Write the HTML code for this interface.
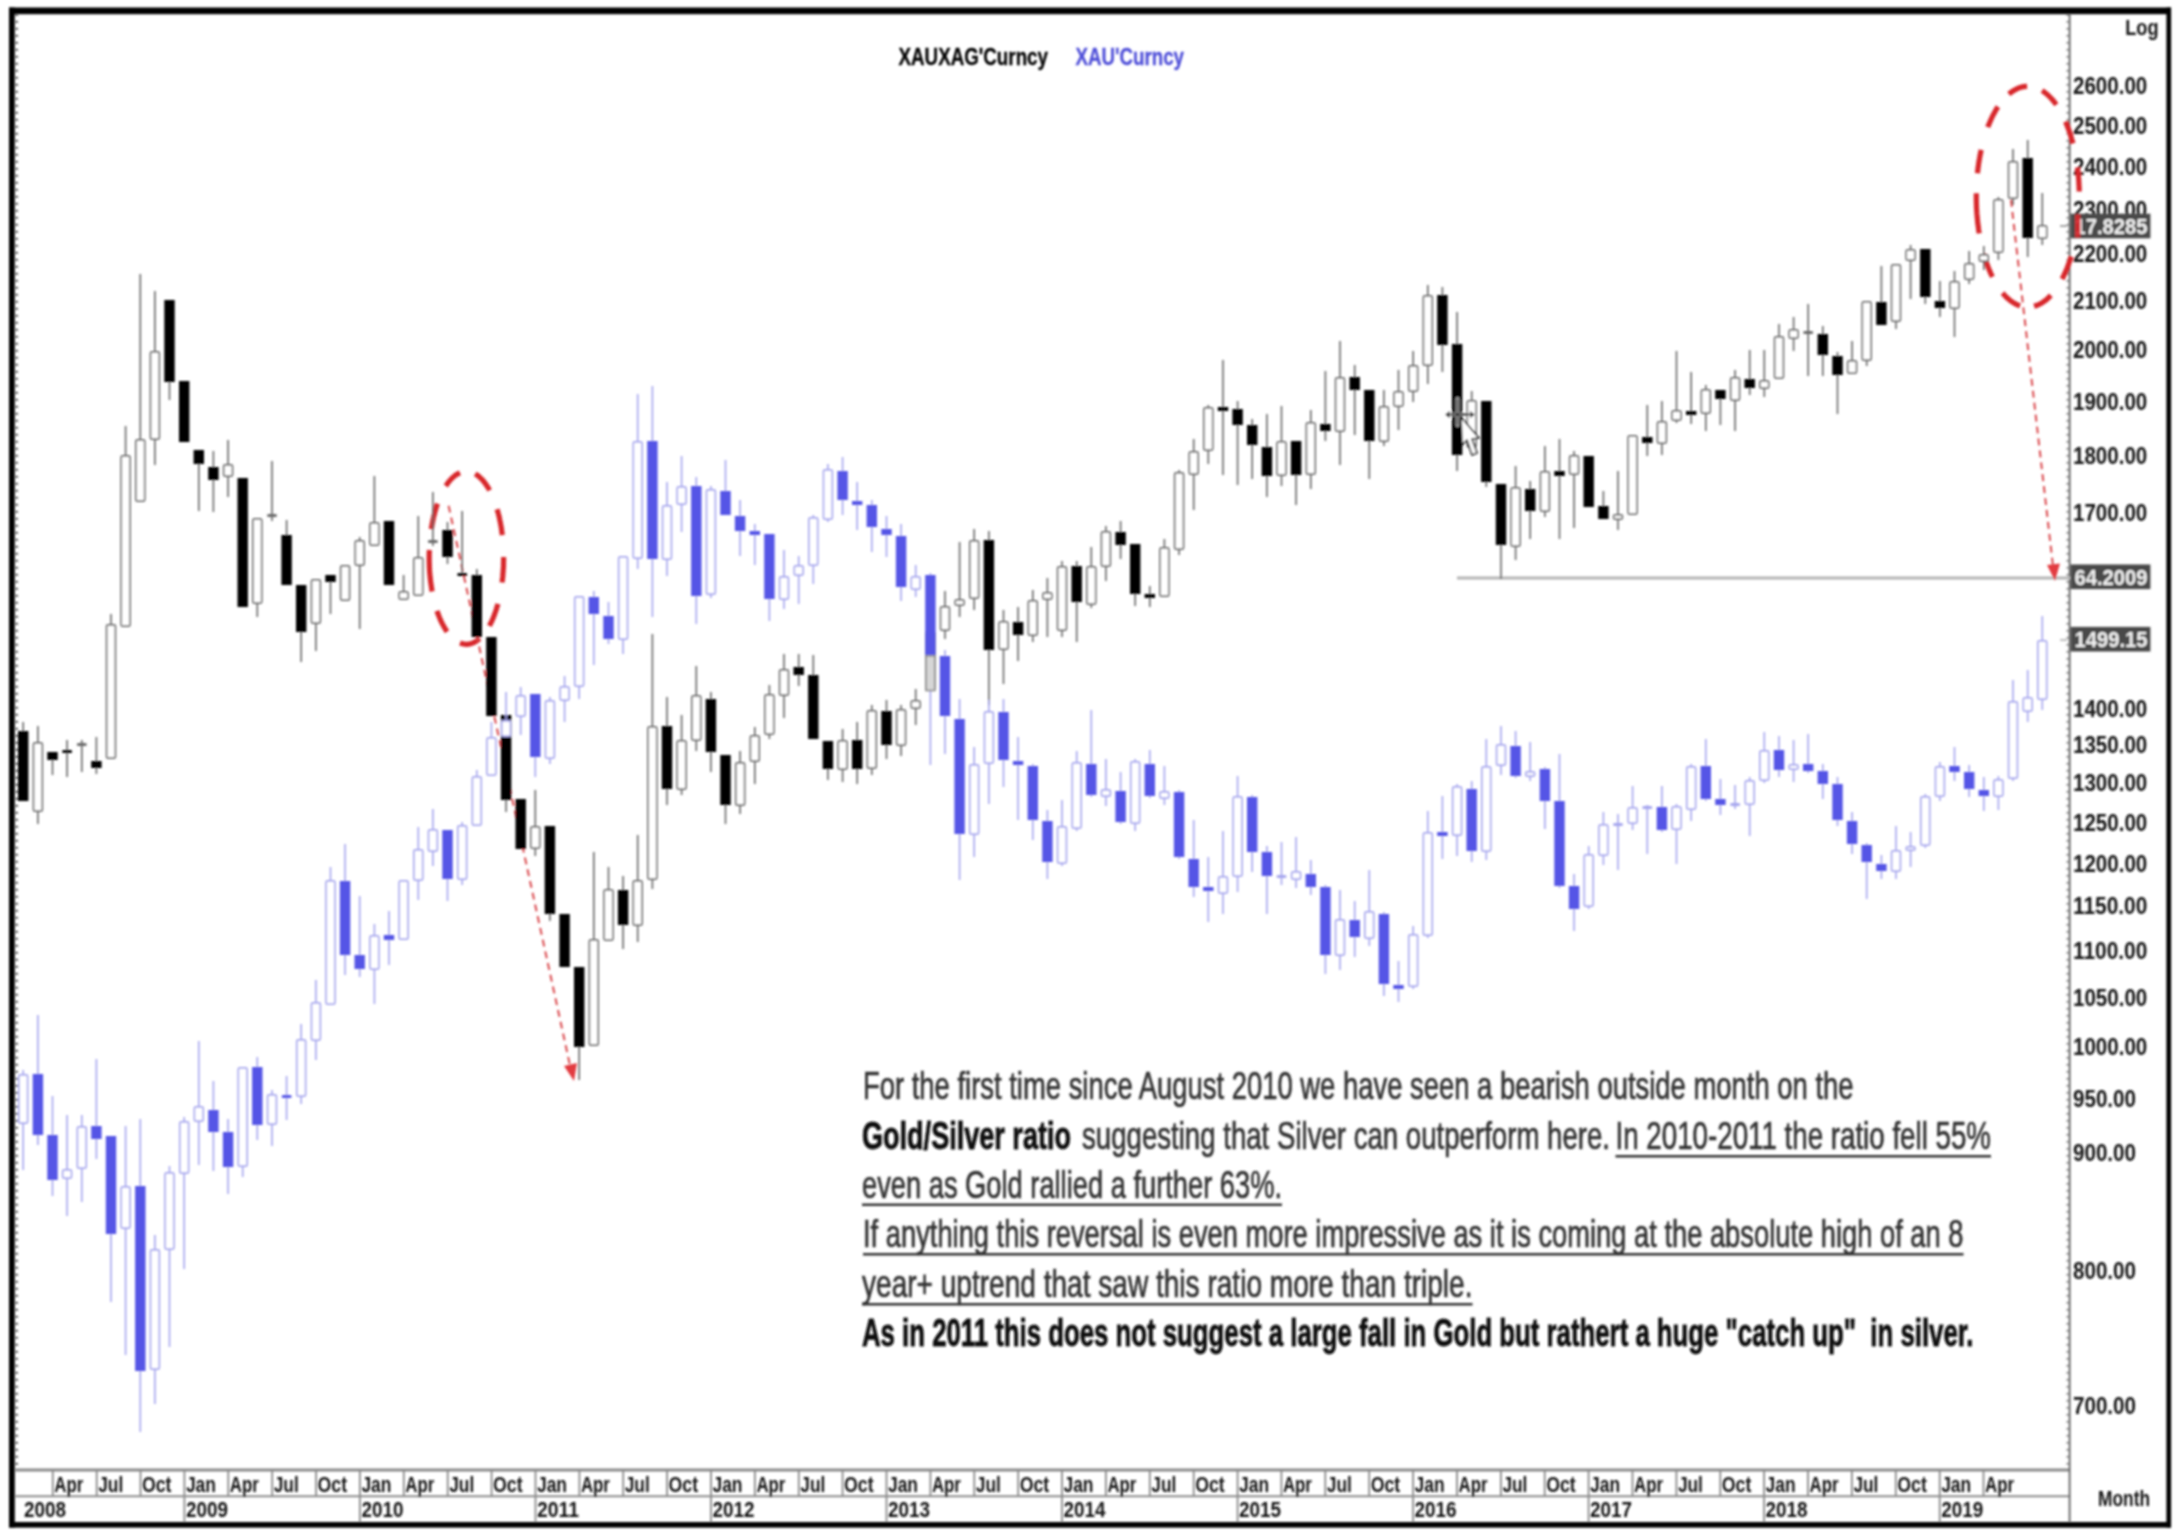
<!DOCTYPE html><html><head><meta charset="utf-8"><title>chart</title><style>
html,body{margin:0;padding:0;background:#fff;}body{width:2180px;height:1540px;overflow:hidden;font-family:"Liberation Sans",sans-serif;}
svg{display:block;font-family:"Liberation Sans",sans-serif;}
.ax{font-size:24px;fill:#141414;font-weight:bold;}
.xl{font-size:22px;fill:#141414;font-weight:bold;}
.t{font-size:38.5px;fill:#333;stroke:#333;stroke-width:0.7px;}
.tb{font-size:38.5px;fill:#111;font-weight:bold;stroke:#111;stroke-width:0.8px;}
</style></head><body>
<svg width="2180" height="1540" viewBox="0 0 2180 1540">
<defs><filter id="bl" x="-2%" y="-2%" width="104%" height="104%"><feGaussianBlur stdDeviation="0.9"/></filter></defs>
<rect width="2180" height="1540" fill="#fff"/>
<g filter="url(#bl)">
<g stroke="#8a8a8a" stroke-width="2.6" fill="none">
<line x1="15" y1="1470" x2="2070" y2="1470" stroke-width="3"/>
<line x1="15" y1="1496.3" x2="2070" y2="1496.3" stroke-width="2"/>
</g>
<g stroke="#8a8a8a" stroke-width="1.8">
<line x1="52.8" y1="1469" x2="52.8" y2="1496"/>
<line x1="96.7" y1="1469" x2="96.7" y2="1496"/>
<line x1="140.5" y1="1469" x2="140.5" y2="1496"/>
<line x1="184.4" y1="1469" x2="184.4" y2="1522"/>
<line x1="228.3" y1="1469" x2="228.3" y2="1496"/>
<line x1="272.2" y1="1469" x2="272.2" y2="1496"/>
<line x1="316.1" y1="1469" x2="316.1" y2="1496"/>
<line x1="359.9" y1="1469" x2="359.9" y2="1522"/>
<line x1="403.8" y1="1469" x2="403.8" y2="1496"/>
<line x1="447.7" y1="1469" x2="447.7" y2="1496"/>
<line x1="491.6" y1="1469" x2="491.6" y2="1496"/>
<line x1="535.5" y1="1469" x2="535.5" y2="1522"/>
<line x1="579.4" y1="1469" x2="579.4" y2="1496"/>
<line x1="623.2" y1="1469" x2="623.2" y2="1496"/>
<line x1="667.1" y1="1469" x2="667.1" y2="1496"/>
<line x1="711.0" y1="1469" x2="711.0" y2="1522"/>
<line x1="754.9" y1="1469" x2="754.9" y2="1496"/>
<line x1="798.8" y1="1469" x2="798.8" y2="1496"/>
<line x1="842.6" y1="1469" x2="842.6" y2="1496"/>
<line x1="886.5" y1="1469" x2="886.5" y2="1522"/>
<line x1="930.4" y1="1469" x2="930.4" y2="1496"/>
<line x1="974.3" y1="1469" x2="974.3" y2="1496"/>
<line x1="1018.2" y1="1469" x2="1018.2" y2="1496"/>
<line x1="1062.0" y1="1469" x2="1062.0" y2="1522"/>
<line x1="1105.9" y1="1469" x2="1105.9" y2="1496"/>
<line x1="1149.8" y1="1469" x2="1149.8" y2="1496"/>
<line x1="1193.7" y1="1469" x2="1193.7" y2="1496"/>
<line x1="1237.6" y1="1469" x2="1237.6" y2="1522"/>
<line x1="1281.4" y1="1469" x2="1281.4" y2="1496"/>
<line x1="1325.3" y1="1469" x2="1325.3" y2="1496"/>
<line x1="1369.2" y1="1469" x2="1369.2" y2="1496"/>
<line x1="1413.1" y1="1469" x2="1413.1" y2="1522"/>
<line x1="1457.0" y1="1469" x2="1457.0" y2="1496"/>
<line x1="1500.9" y1="1469" x2="1500.9" y2="1496"/>
<line x1="1544.7" y1="1469" x2="1544.7" y2="1496"/>
<line x1="1588.6" y1="1469" x2="1588.6" y2="1522"/>
<line x1="1632.5" y1="1469" x2="1632.5" y2="1496"/>
<line x1="1676.4" y1="1469" x2="1676.4" y2="1496"/>
<line x1="1720.3" y1="1469" x2="1720.3" y2="1496"/>
<line x1="1764.1" y1="1469" x2="1764.1" y2="1522"/>
<line x1="1808.0" y1="1469" x2="1808.0" y2="1496"/>
<line x1="1851.9" y1="1469" x2="1851.9" y2="1496"/>
<line x1="1895.8" y1="1469" x2="1895.8" y2="1496"/>
<line x1="1939.7" y1="1469" x2="1939.7" y2="1522"/>
<line x1="1983.5" y1="1469" x2="1983.5" y2="1496"/>
</g>
<g class="xl">
<text x="54.3" y="1492.3" textLength="29" lengthAdjust="spacingAndGlyphs">Apr</text>
<text x="98.2" y="1492.3" textLength="25" lengthAdjust="spacingAndGlyphs">Jul</text>
<text x="142.0" y="1492.3" textLength="29.5" lengthAdjust="spacingAndGlyphs">Oct</text>
<text x="185.9" y="1492.3" textLength="30" lengthAdjust="spacingAndGlyphs">Jan</text>
<text x="229.8" y="1492.3" textLength="29" lengthAdjust="spacingAndGlyphs">Apr</text>
<text x="273.7" y="1492.3" textLength="25" lengthAdjust="spacingAndGlyphs">Jul</text>
<text x="317.6" y="1492.3" textLength="29.5" lengthAdjust="spacingAndGlyphs">Oct</text>
<text x="361.4" y="1492.3" textLength="30" lengthAdjust="spacingAndGlyphs">Jan</text>
<text x="405.3" y="1492.3" textLength="29" lengthAdjust="spacingAndGlyphs">Apr</text>
<text x="449.2" y="1492.3" textLength="25" lengthAdjust="spacingAndGlyphs">Jul</text>
<text x="493.1" y="1492.3" textLength="29.5" lengthAdjust="spacingAndGlyphs">Oct</text>
<text x="537.0" y="1492.3" textLength="30" lengthAdjust="spacingAndGlyphs">Jan</text>
<text x="580.9" y="1492.3" textLength="29" lengthAdjust="spacingAndGlyphs">Apr</text>
<text x="624.7" y="1492.3" textLength="25" lengthAdjust="spacingAndGlyphs">Jul</text>
<text x="668.6" y="1492.3" textLength="29.5" lengthAdjust="spacingAndGlyphs">Oct</text>
<text x="712.5" y="1492.3" textLength="30" lengthAdjust="spacingAndGlyphs">Jan</text>
<text x="756.4" y="1492.3" textLength="29" lengthAdjust="spacingAndGlyphs">Apr</text>
<text x="800.3" y="1492.3" textLength="25" lengthAdjust="spacingAndGlyphs">Jul</text>
<text x="844.1" y="1492.3" textLength="29.5" lengthAdjust="spacingAndGlyphs">Oct</text>
<text x="888.0" y="1492.3" textLength="30" lengthAdjust="spacingAndGlyphs">Jan</text>
<text x="931.9" y="1492.3" textLength="29" lengthAdjust="spacingAndGlyphs">Apr</text>
<text x="975.8" y="1492.3" textLength="25" lengthAdjust="spacingAndGlyphs">Jul</text>
<text x="1019.7" y="1492.3" textLength="29.5" lengthAdjust="spacingAndGlyphs">Oct</text>
<text x="1063.5" y="1492.3" textLength="30" lengthAdjust="spacingAndGlyphs">Jan</text>
<text x="1107.4" y="1492.3" textLength="29" lengthAdjust="spacingAndGlyphs">Apr</text>
<text x="1151.3" y="1492.3" textLength="25" lengthAdjust="spacingAndGlyphs">Jul</text>
<text x="1195.2" y="1492.3" textLength="29.5" lengthAdjust="spacingAndGlyphs">Oct</text>
<text x="1239.1" y="1492.3" textLength="30" lengthAdjust="spacingAndGlyphs">Jan</text>
<text x="1282.9" y="1492.3" textLength="29" lengthAdjust="spacingAndGlyphs">Apr</text>
<text x="1326.8" y="1492.3" textLength="25" lengthAdjust="spacingAndGlyphs">Jul</text>
<text x="1370.7" y="1492.3" textLength="29.5" lengthAdjust="spacingAndGlyphs">Oct</text>
<text x="1414.6" y="1492.3" textLength="30" lengthAdjust="spacingAndGlyphs">Jan</text>
<text x="1458.5" y="1492.3" textLength="29" lengthAdjust="spacingAndGlyphs">Apr</text>
<text x="1502.4" y="1492.3" textLength="25" lengthAdjust="spacingAndGlyphs">Jul</text>
<text x="1546.2" y="1492.3" textLength="29.5" lengthAdjust="spacingAndGlyphs">Oct</text>
<text x="1590.1" y="1492.3" textLength="30" lengthAdjust="spacingAndGlyphs">Jan</text>
<text x="1634.0" y="1492.3" textLength="29" lengthAdjust="spacingAndGlyphs">Apr</text>
<text x="1677.9" y="1492.3" textLength="25" lengthAdjust="spacingAndGlyphs">Jul</text>
<text x="1721.8" y="1492.3" textLength="29.5" lengthAdjust="spacingAndGlyphs">Oct</text>
<text x="1765.6" y="1492.3" textLength="30" lengthAdjust="spacingAndGlyphs">Jan</text>
<text x="1809.5" y="1492.3" textLength="29" lengthAdjust="spacingAndGlyphs">Apr</text>
<text x="1853.4" y="1492.3" textLength="25" lengthAdjust="spacingAndGlyphs">Jul</text>
<text x="1897.3" y="1492.3" textLength="29.5" lengthAdjust="spacingAndGlyphs">Oct</text>
<text x="1941.2" y="1492.3" textLength="30" lengthAdjust="spacingAndGlyphs">Jan</text>
<text x="1985.0" y="1492.3" textLength="29" lengthAdjust="spacingAndGlyphs">Apr</text>
<text x="24.0" y="1517.3" font-size="21.5" textLength="42" lengthAdjust="spacingAndGlyphs">2008</text>
<text x="185.9" y="1517.3" font-size="21.5" textLength="42" lengthAdjust="spacingAndGlyphs">2009</text>
<text x="361.4" y="1517.3" font-size="21.5" textLength="42" lengthAdjust="spacingAndGlyphs">2010</text>
<text x="537.0" y="1517.3" font-size="21.5" textLength="42" lengthAdjust="spacingAndGlyphs">2011</text>
<text x="712.5" y="1517.3" font-size="21.5" textLength="42" lengthAdjust="spacingAndGlyphs">2012</text>
<text x="888.0" y="1517.3" font-size="21.5" textLength="42" lengthAdjust="spacingAndGlyphs">2013</text>
<text x="1063.5" y="1517.3" font-size="21.5" textLength="42" lengthAdjust="spacingAndGlyphs">2014</text>
<text x="1239.1" y="1517.3" font-size="21.5" textLength="42" lengthAdjust="spacingAndGlyphs">2015</text>
<text x="1414.6" y="1517.3" font-size="21.5" textLength="42" lengthAdjust="spacingAndGlyphs">2016</text>
<text x="1590.1" y="1517.3" font-size="21.5" textLength="42" lengthAdjust="spacingAndGlyphs">2017</text>
<text x="1765.6" y="1517.3" font-size="21.5" textLength="42" lengthAdjust="spacingAndGlyphs">2018</text>
<text x="1941.2" y="1517.3" font-size="21.5" textLength="42" lengthAdjust="spacingAndGlyphs">2019</text>
<text x="2098" y="1506" font-size="21.5" textLength="52" lengthAdjust="spacingAndGlyphs">Month</text>
<text x="2125.2" y="35.2" font-size="22" textLength="33.3" lengthAdjust="spacingAndGlyphs">Log</text>
</g>
<line x1="2069.6" y1="14" x2="2069.6" y2="1522" stroke="#555" stroke-width="1.7"/>
<line x1="2067.6" y1="14" x2="2067.6" y2="1469" stroke="#777" stroke-width="2.4" stroke-dasharray="1.4 5.6"/>
<line x1="16.5" y1="14" x2="16.5" y2="1469" stroke="#333" stroke-width="3" stroke-dasharray="1.5 5.5"/>
<g class="ax">
<text x="2073" y="94.2" textLength="74.3" lengthAdjust="spacingAndGlyphs">2600.00</text>
<text x="2073" y="133.6" textLength="74.3" lengthAdjust="spacingAndGlyphs">2500.00</text>
<text x="2073" y="174.7" textLength="74.3" lengthAdjust="spacingAndGlyphs">2400.00</text>
<text x="2073" y="217.5" textLength="74.3" lengthAdjust="spacingAndGlyphs">2300.00</text>
<text x="2073" y="262.2" textLength="74.3" lengthAdjust="spacingAndGlyphs">2200.00</text>
<text x="2073" y="308.9" textLength="74.3" lengthAdjust="spacingAndGlyphs">2100.00</text>
<text x="2073" y="358.0" textLength="74.3" lengthAdjust="spacingAndGlyphs">2000.00</text>
<text x="2073" y="409.6" textLength="74.3" lengthAdjust="spacingAndGlyphs">1900.00</text>
<text x="2073" y="463.9" textLength="74.3" lengthAdjust="spacingAndGlyphs">1800.00</text>
<text x="2073" y="521.4" textLength="74.3" lengthAdjust="spacingAndGlyphs">1700.00</text>
<text x="2073" y="716.6" textLength="74.3" lengthAdjust="spacingAndGlyphs">1400.00</text>
<text x="2073" y="753.2" textLength="74.3" lengthAdjust="spacingAndGlyphs">1350.00</text>
<text x="2073" y="791.2" textLength="74.3" lengthAdjust="spacingAndGlyphs">1300.00</text>
<text x="2073" y="830.6" textLength="74.3" lengthAdjust="spacingAndGlyphs">1250.00</text>
<text x="2073" y="871.6" textLength="74.3" lengthAdjust="spacingAndGlyphs">1200.00</text>
<text x="2073" y="914.4" textLength="74.3" lengthAdjust="spacingAndGlyphs">1150.00</text>
<text x="2073" y="959.1" textLength="74.3" lengthAdjust="spacingAndGlyphs">1100.00</text>
<text x="2073" y="1005.9" textLength="74.3" lengthAdjust="spacingAndGlyphs">1050.00</text>
<text x="2073" y="1055.0" textLength="74.3" lengthAdjust="spacingAndGlyphs">1000.00</text>
<text x="2073" y="1106.5" textLength="63" lengthAdjust="spacingAndGlyphs">950.00</text>
<text x="2073" y="1160.9" textLength="63" lengthAdjust="spacingAndGlyphs">900.00</text>
<text x="2073" y="1279.3" textLength="63" lengthAdjust="spacingAndGlyphs">800.00</text>
<text x="2073" y="1413.6" textLength="63" lengthAdjust="spacingAndGlyphs">700.00</text>
</g>
<line x1="1457" y1="578" x2="2070" y2="578" stroke="#b4b4b4" stroke-width="3"/>
<g fill="none" stroke="#d8262c" stroke-width="5.2" stroke-linecap="butt"><path d="M445.8 486.0 L446.9 484.4 L448.0 482.8 L449.1 481.4 L450.2 480.1 L451.4 478.8 L452.6 477.7 L453.8 476.6 L455.0 475.6 L456.2 474.8 L457.5 474.0 L458.7 473.4 L460.0 472.8 M475.2 473.9 L476.5 474.7 L477.8 475.6 L479.1 476.7 L480.3 477.8 L481.6 479.0 L482.8 480.3 L484.0 481.8 L485.2 483.3 L486.3 485.0 L487.5 486.7 L488.6 488.5 L489.6 490.4 M497.1 509.2 L497.7 511.2 L498.2 513.2 L498.8 515.3 L499.3 517.4 L499.7 519.5 L500.2 521.7 L500.6 523.9 L501.0 526.1 L501.4 528.3 L501.7 530.6 L502.0 532.9 L502.3 535.2 M503.6 557.1 L503.6 559.3 L503.6 561.4 L503.5 563.5 L503.5 565.6 L503.4 567.8 L503.2 569.9 L503.1 572.0 L502.9 574.1 L502.8 576.2 L502.6 578.2 L502.3 580.3 L502.1 582.4 M497.9 603.9 L497.3 606.0 L496.7 608.0 L496.1 610.0 L495.4 612.0 L494.7 613.9 L494.0 615.8 L493.3 617.6 L492.6 619.3 L491.8 621.1 L491.0 622.7 L490.2 624.3 L489.4 625.9 M479.7 638.6 L478.1 639.9 L476.5 641.1 L474.9 642.0 L473.3 642.8 L471.6 643.4 L470.0 643.9 L468.3 644.2 L466.7 644.3 L465.0 644.2 L463.3 644.0 L461.7 643.6 L460.0 643.0 M447.1 631.7 L446.1 630.3 L445.2 628.9 L444.3 627.3 L443.4 625.7 L442.5 624.1 L441.6 622.4 L440.8 620.6 L440.0 618.8 L439.2 616.9 L438.5 615.0 L437.7 613.0 L437.0 610.9 M432.1 591.5 L431.6 588.2 L431.1 584.8 L430.6 581.5 L430.2 578.1 L429.9 574.6 L429.6 571.1 L429.4 567.6 L429.3 564.1 L429.2 560.6 L429.2 557.1 L429.2 553.5 L429.4 550.0 M431.3 529.1 L431.7 526.8 L432.1 524.5 L432.5 522.3 L433.0 520.1 L433.4 517.9 L433.9 515.7 L434.5 513.6 L435.0 511.5 L435.6 509.5 L436.2 507.5 L436.8 505.5 L437.5 503.6"/><path d="M2008.8 94.0 L2010.3 92.9 L2011.8 91.8 L2013.3 90.8 L2014.8 89.9 L2016.3 89.1 L2017.8 88.4 L2019.4 87.8 L2020.9 87.3 L2022.4 86.9 L2024.0 86.6 L2025.6 86.4 L2027.1 86.3 M2042.0 90.6 L2043.3 91.4 L2044.5 92.3 L2045.8 93.2 L2047.0 94.3 L2048.2 95.3 L2049.4 96.5 L2050.6 97.7 L2051.8 99.0 L2052.9 100.3 L2054.1 101.7 L2055.2 103.2 L2056.3 104.7 M2065.5 121.6 L2066.3 123.3 L2066.9 125.0 L2067.6 126.7 L2068.3 128.5 L2068.9 130.3 L2069.6 132.1 L2070.2 133.9 L2070.8 135.8 L2071.3 137.7 L2071.9 139.6 L2072.4 141.5 L2072.9 143.5 M2077.5 167.4 L2077.7 169.4 L2077.9 171.3 L2078.1 173.3 L2078.3 175.3 L2078.5 177.3 L2078.7 179.3 L2078.8 181.3 L2078.9 183.3 L2079.0 185.3 L2079.1 187.3 L2079.2 189.4 L2079.2 191.4 M2078.7 214.2 L2078.5 216.0 L2078.3 217.8 L2078.2 219.7 L2078.0 221.5 L2077.8 223.3 L2077.6 225.1 L2077.3 226.9 L2077.1 228.7 L2076.8 230.5 L2076.6 232.3 L2076.3 234.0 L2076.0 235.8 M2071.1 256.5 L2070.5 258.6 L2069.8 260.6 L2069.1 262.6 L2068.4 264.6 L2067.7 266.5 L2067.0 268.4 L2066.2 270.3 L2065.4 272.1 L2064.6 273.9 L2063.8 275.6 L2063.0 277.3 L2062.1 279.0 M2050.9 295.4 L2049.6 296.7 L2048.2 298.0 L2046.9 299.2 L2045.5 300.4 L2044.1 301.4 L2042.7 302.4 L2041.3 303.2 L2039.9 304.0 L2038.5 304.7 L2037.0 305.3 L2035.6 305.8 L2034.1 306.3 M2020.1 305.8 L2018.5 305.3 L2017.0 304.7 L2015.5 303.9 L2014.0 303.1 L2012.5 302.1 L2011.1 301.1 L2009.6 300.0 L2008.2 298.8 L2006.7 297.5 L2005.3 296.1 L2004.0 294.6 L2002.6 293.0 M1992.4 276.8 L1991.6 275.1 L1990.7 273.4 L1990.0 271.6 L1989.2 269.8 L1988.4 267.9 L1987.7 266.0 L1987.0 264.1 L1986.3 262.1 L1985.6 260.1 L1985.0 258.1 L1984.4 256.0 L1983.8 253.9 M1979.2 233.3 L1978.7 230.1 L1978.3 226.8 L1977.8 223.5 L1977.5 220.2 L1977.2 216.9 L1976.9 213.5 L1976.7 210.2 L1976.5 206.8 L1976.4 203.4 L1976.3 200.0 L1976.3 196.6 L1976.3 193.2 M1977.5 173.2 L1977.7 171.2 L1977.9 169.2 L1978.2 167.2 L1978.4 165.3 L1978.7 163.3 L1979.0 161.3 L1979.3 159.4 L1979.7 157.5 L1980.0 155.5 L1980.4 153.6 L1980.8 151.7 L1981.2 149.9 M1987.8 127.2 L1988.5 125.3 L1989.3 123.4 L1990.1 121.5 L1990.9 119.7 L1991.7 117.9 L1992.6 116.2 L1993.4 114.5 L1994.3 112.9 L1995.2 111.2 L1996.1 109.7 L1997.0 108.2 L1998.0 106.7"/></g>
<g fill="none" stroke="#d9474c" stroke-width="2" stroke-dasharray="7 5"><line x1="448.6" y1="505.7" x2="571" y2="1070"/><line x1="2011" y1="200" x2="2053" y2="566"/></g><path d="M564 1066 L577 1063 L574 1081 Z" fill="#e23a40"/><path d="M2047 565 L2060 563.5 L2055 581 Z" fill="#e23a40"/>
<g>
<line x1="23.2" y1="722" x2="23.2" y2="801" stroke="#666" stroke-width="1.6"/><rect x="18.0" y="731" width="10.4" height="70" fill="#000"/>
<line x1="37.9" y1="726" x2="37.9" y2="824" stroke="#666" stroke-width="1.6"/><rect x="33.5" y="742.8" width="8.8" height="68.4" rx="1.5" fill="#fff" stroke="#6c6c6c" stroke-width="1.7"/>
<line x1="52.5" y1="752" x2="52.5" y2="775" stroke="#666" stroke-width="1.6"/><rect x="47.3" y="752" width="10.4" height="8" fill="#000"/>
<line x1="67.1" y1="740" x2="67.1" y2="777" stroke="#666" stroke-width="1.6"/><rect x="62.1" y="750" width="10" height="3" rx="1.5" fill="#000"/>
<line x1="81.8" y1="740" x2="81.8" y2="772" stroke="#666" stroke-width="1.6"/><rect x="76.8" y="743" width="10" height="3" rx="1.5" fill="#6c6c6c"/>
<line x1="96.4" y1="737" x2="96.4" y2="774" stroke="#666" stroke-width="1.6"/><rect x="91.2" y="761" width="10.4" height="7" fill="#000"/>
<line x1="111.0" y1="614" x2="111.0" y2="759" stroke="#666" stroke-width="1.6"/><rect x="106.6" y="624.8" width="8.8" height="133.4" rx="1.5" fill="#fff" stroke="#6c6c6c" stroke-width="1.7"/>
<line x1="125.6" y1="426" x2="125.6" y2="627" stroke="#666" stroke-width="1.6"/><rect x="121.2" y="455.8" width="8.8" height="170.4" rx="1.5" fill="#fff" stroke="#6c6c6c" stroke-width="1.7"/>
<line x1="140.3" y1="274" x2="140.3" y2="502" stroke="#666" stroke-width="1.6"/><rect x="135.9" y="439.8" width="8.8" height="61.4" rx="1.5" fill="#fff" stroke="#6c6c6c" stroke-width="1.7"/>
<line x1="154.9" y1="291" x2="154.9" y2="465" stroke="#666" stroke-width="1.6"/><rect x="150.5" y="351.8" width="8.8" height="87.4" rx="1.5" fill="#fff" stroke="#6c6c6c" stroke-width="1.7"/>
<line x1="169.5" y1="300" x2="169.5" y2="400" stroke="#666" stroke-width="1.6"/><rect x="164.3" y="300" width="10.4" height="82" fill="#000"/>
<line x1="184.2" y1="381" x2="184.2" y2="442" stroke="#666" stroke-width="1.6"/><rect x="179.0" y="381" width="10.4" height="61" fill="#000"/>
<line x1="198.8" y1="450" x2="198.8" y2="511" stroke="#666" stroke-width="1.6"/><rect x="193.6" y="450" width="10.4" height="14" fill="#000"/>
<line x1="213.4" y1="451" x2="213.4" y2="512" stroke="#666" stroke-width="1.6"/><rect x="208.2" y="467" width="10.4" height="13" fill="#000"/>
<line x1="228.1" y1="440" x2="228.1" y2="497" stroke="#666" stroke-width="1.6"/><rect x="223.7" y="464.8" width="8.8" height="11.4" rx="1.5" fill="#fff" stroke="#6c6c6c" stroke-width="1.7"/>
<line x1="242.7" y1="478" x2="242.7" y2="607" stroke="#666" stroke-width="1.6"/><rect x="237.5" y="478" width="10.4" height="129" fill="#000"/>
<line x1="257.3" y1="518" x2="257.3" y2="617" stroke="#666" stroke-width="1.6"/><rect x="252.9" y="518.8" width="8.8" height="84.4" rx="1.5" fill="#fff" stroke="#6c6c6c" stroke-width="1.7"/>
<line x1="272.0" y1="461" x2="272.0" y2="521" stroke="#666" stroke-width="1.6"/><rect x="267.0" y="514" width="10" height="3" rx="1.5" fill="#6c6c6c"/>
<line x1="286.6" y1="520" x2="286.6" y2="585" stroke="#666" stroke-width="1.6"/><rect x="281.4" y="535" width="10.4" height="50" fill="#000"/>
<line x1="301.2" y1="585" x2="301.2" y2="662" stroke="#666" stroke-width="1.6"/><rect x="296.0" y="585" width="10.4" height="47" fill="#000"/>
<line x1="315.9" y1="579" x2="315.9" y2="651" stroke="#666" stroke-width="1.6"/><rect x="311.5" y="579.8" width="8.8" height="43.4" rx="1.5" fill="#fff" stroke="#6c6c6c" stroke-width="1.7"/>
<line x1="330.5" y1="575" x2="330.5" y2="614" stroke="#666" stroke-width="1.6"/><rect x="325.3" y="575" width="10.4" height="7" fill="#000"/>
<line x1="345.1" y1="565" x2="345.1" y2="601" stroke="#666" stroke-width="1.6"/><rect x="340.7" y="565.8" width="8.8" height="34.4" rx="1.5" fill="#fff" stroke="#6c6c6c" stroke-width="1.7"/>
<line x1="359.7" y1="537" x2="359.7" y2="629" stroke="#666" stroke-width="1.6"/><rect x="355.3" y="540.8" width="8.8" height="24.4" rx="1.5" fill="#fff" stroke="#6c6c6c" stroke-width="1.7"/>
<line x1="374.4" y1="476" x2="374.4" y2="546" stroke="#666" stroke-width="1.6"/><rect x="370.0" y="522.8" width="8.8" height="22.4" rx="1.5" fill="#fff" stroke="#6c6c6c" stroke-width="1.7"/>
<line x1="389.0" y1="521" x2="389.0" y2="585" stroke="#666" stroke-width="1.6"/><rect x="383.8" y="521" width="10.4" height="64" fill="#000"/>
<line x1="403.6" y1="575" x2="403.6" y2="600" stroke="#666" stroke-width="1.6"/><rect x="399.2" y="591.8" width="8.8" height="7.4" rx="1.5" fill="#fff" stroke="#6c6c6c" stroke-width="1.7"/>
<line x1="418.3" y1="516" x2="418.3" y2="596" stroke="#666" stroke-width="1.6"/><rect x="413.9" y="557.8" width="8.8" height="37.4" rx="1.5" fill="#fff" stroke="#6c6c6c" stroke-width="1.7"/>
<line x1="432.9" y1="492" x2="432.9" y2="546" stroke="#666" stroke-width="1.6"/><rect x="427.9" y="540" width="10" height="3" rx="1.5" fill="#6c6c6c"/>
<line x1="447.5" y1="522" x2="447.5" y2="564" stroke="#666" stroke-width="1.6"/><rect x="442.3" y="530" width="10.4" height="27" fill="#000"/>
<line x1="462.2" y1="511" x2="462.2" y2="576" stroke="#666" stroke-width="1.6"/><rect x="457.2" y="573" width="10" height="3" rx="1.5" fill="#000"/>
<line x1="476.8" y1="569" x2="476.8" y2="637" stroke="#666" stroke-width="1.6"/><rect x="471.6" y="575" width="10.4" height="62" fill="#000"/>
<line x1="491.4" y1="637" x2="491.4" y2="716" stroke="#666" stroke-width="1.6"/><rect x="486.2" y="637" width="10.4" height="79" fill="#000"/>
<line x1="506.1" y1="715" x2="506.1" y2="812" stroke="#666" stroke-width="1.6"/><rect x="500.9" y="715" width="10.4" height="85" fill="#000"/>
<line x1="520.7" y1="799" x2="520.7" y2="849" stroke="#666" stroke-width="1.6"/><rect x="515.5" y="799" width="10.4" height="50" fill="#000"/>
<line x1="535.3" y1="790" x2="535.3" y2="856" stroke="#666" stroke-width="1.6"/><rect x="530.9" y="826.8" width="8.8" height="21.4" rx="1.5" fill="#fff" stroke="#6c6c6c" stroke-width="1.7"/>
<line x1="549.9" y1="826" x2="549.9" y2="921" stroke="#666" stroke-width="1.6"/><rect x="544.7" y="826" width="10.4" height="88" fill="#000"/>
<line x1="564.6" y1="914" x2="564.6" y2="967" stroke="#666" stroke-width="1.6"/><rect x="559.4" y="914" width="10.4" height="53" fill="#000"/>
<line x1="579.2" y1="967" x2="579.2" y2="1080" stroke="#666" stroke-width="1.6"/><rect x="574.0" y="967" width="10.4" height="80" fill="#000"/>
<line x1="593.8" y1="852" x2="593.8" y2="1046" stroke="#666" stroke-width="1.6"/><rect x="589.4" y="939.8" width="8.8" height="105.4" rx="1.5" fill="#fff" stroke="#6c6c6c" stroke-width="1.7"/>
<line x1="608.5" y1="867" x2="608.5" y2="941" stroke="#666" stroke-width="1.6"/><rect x="604.1" y="889.8" width="8.8" height="50.4" rx="1.5" fill="#fff" stroke="#6c6c6c" stroke-width="1.7"/>
<line x1="623.1" y1="876" x2="623.1" y2="949" stroke="#666" stroke-width="1.6"/><rect x="617.9" y="890" width="10.4" height="35" fill="#000"/>
<line x1="637.7" y1="835" x2="637.7" y2="942" stroke="#666" stroke-width="1.6"/><rect x="633.3" y="880.8" width="8.8" height="44.4" rx="1.5" fill="#fff" stroke="#6c6c6c" stroke-width="1.7"/>
<line x1="652.4" y1="634" x2="652.4" y2="889" stroke="#666" stroke-width="1.6"/><rect x="648.0" y="726.8" width="8.8" height="152.4" rx="1.5" fill="#fff" stroke="#6c6c6c" stroke-width="1.7"/>
<line x1="667.0" y1="697" x2="667.0" y2="805" stroke="#666" stroke-width="1.6"/><rect x="661.8" y="726" width="10.4" height="63" fill="#000"/>
<line x1="681.6" y1="715" x2="681.6" y2="795" stroke="#666" stroke-width="1.6"/><rect x="677.2" y="740.8" width="8.8" height="48.4" rx="1.5" fill="#fff" stroke="#6c6c6c" stroke-width="1.7"/>
<line x1="696.3" y1="666" x2="696.3" y2="751" stroke="#666" stroke-width="1.6"/><rect x="691.9" y="695.8" width="8.8" height="44.4" rx="1.5" fill="#fff" stroke="#6c6c6c" stroke-width="1.7"/>
<line x1="710.9" y1="692" x2="710.9" y2="772" stroke="#666" stroke-width="1.6"/><rect x="705.7" y="699" width="10.4" height="53" fill="#000"/>
<line x1="725.5" y1="755" x2="725.5" y2="824" stroke="#666" stroke-width="1.6"/><rect x="720.3" y="755" width="10.4" height="50" fill="#000"/>
<line x1="740.1" y1="751" x2="740.1" y2="814" stroke="#666" stroke-width="1.6"/><rect x="735.8" y="762.8" width="8.8" height="42.4" rx="1.5" fill="#fff" stroke="#6c6c6c" stroke-width="1.7"/>
<line x1="754.8" y1="727" x2="754.8" y2="784" stroke="#666" stroke-width="1.6"/><rect x="750.4" y="735.8" width="8.8" height="25.4" rx="1.5" fill="#fff" stroke="#6c6c6c" stroke-width="1.7"/>
<line x1="769.4" y1="685" x2="769.4" y2="739" stroke="#666" stroke-width="1.6"/><rect x="765.0" y="694.8" width="8.8" height="39.4" rx="1.5" fill="#fff" stroke="#6c6c6c" stroke-width="1.7"/>
<line x1="784.0" y1="654" x2="784.0" y2="718" stroke="#666" stroke-width="1.6"/><rect x="779.6" y="669.8" width="8.8" height="25.4" rx="1.5" fill="#fff" stroke="#6c6c6c" stroke-width="1.7"/>
<line x1="798.7" y1="654" x2="798.7" y2="686" stroke="#666" stroke-width="1.6"/><rect x="793.5" y="667" width="10.4" height="8" fill="#000"/>
<line x1="813.3" y1="655" x2="813.3" y2="739" stroke="#666" stroke-width="1.6"/><rect x="808.1" y="675" width="10.4" height="64" fill="#000"/>
<line x1="827.9" y1="741" x2="827.9" y2="780" stroke="#666" stroke-width="1.6"/><rect x="822.7" y="741" width="10.4" height="28" fill="#000"/>
<line x1="842.6" y1="729" x2="842.6" y2="782" stroke="#666" stroke-width="1.6"/><rect x="838.2" y="740.8" width="8.8" height="28.4" rx="1.5" fill="#fff" stroke="#6c6c6c" stroke-width="1.7"/>
<line x1="857.2" y1="722" x2="857.2" y2="784" stroke="#666" stroke-width="1.6"/><rect x="852.0" y="740" width="10.4" height="29" fill="#000"/>
<line x1="871.8" y1="705" x2="871.8" y2="775" stroke="#666" stroke-width="1.6"/><rect x="867.4" y="710.8" width="8.8" height="57.4" rx="1.5" fill="#fff" stroke="#6c6c6c" stroke-width="1.7"/>
<line x1="886.5" y1="700" x2="886.5" y2="759" stroke="#666" stroke-width="1.6"/><rect x="881.3" y="711" width="10.4" height="34" fill="#000"/>
<line x1="901.1" y1="705" x2="901.1" y2="756" stroke="#666" stroke-width="1.6"/><rect x="896.7" y="709.8" width="8.8" height="35.4" rx="1.5" fill="#fff" stroke="#6c6c6c" stroke-width="1.7"/>
<line x1="915.7" y1="689" x2="915.7" y2="725" stroke="#666" stroke-width="1.6"/><rect x="911.3" y="700.8" width="8.8" height="7.4" rx="1.5" fill="#fff" stroke="#6c6c6c" stroke-width="1.7"/>
<line x1="930.4" y1="620" x2="930.4" y2="691" stroke="#666" stroke-width="1.6"/><rect x="926.0" y="631.8" width="8.8" height="58.4" rx="1.5" fill="#fff" stroke="#6c6c6c" stroke-width="1.7"/>
<line x1="945.0" y1="591" x2="945.0" y2="639" stroke="#666" stroke-width="1.6"/><rect x="940.6" y="606.8" width="8.8" height="23.4" rx="1.5" fill="#fff" stroke="#6c6c6c" stroke-width="1.7"/>
<line x1="959.6" y1="542" x2="959.6" y2="617" stroke="#666" stroke-width="1.6"/><rect x="955.2" y="599.8" width="8.8" height="5.4" rx="1.5" fill="#fff" stroke="#6c6c6c" stroke-width="1.7"/>
<line x1="974.2" y1="529" x2="974.2" y2="610" stroke="#666" stroke-width="1.6"/><rect x="969.8" y="540.8" width="8.8" height="57.4" rx="1.5" fill="#fff" stroke="#6c6c6c" stroke-width="1.7"/>
<line x1="988.9" y1="531" x2="988.9" y2="705" stroke="#666" stroke-width="1.6"/><rect x="983.7" y="540" width="10.4" height="110" fill="#000"/>
<line x1="1003.5" y1="610" x2="1003.5" y2="684" stroke="#666" stroke-width="1.6"/><rect x="999.1" y="621.8" width="8.8" height="27.4" rx="1.5" fill="#fff" stroke="#6c6c6c" stroke-width="1.7"/>
<line x1="1018.1" y1="607" x2="1018.1" y2="661" stroke="#666" stroke-width="1.6"/><rect x="1012.9" y="622" width="10.4" height="13" fill="#000"/>
<line x1="1032.8" y1="590" x2="1032.8" y2="642" stroke="#666" stroke-width="1.6"/><rect x="1028.4" y="600.8" width="8.8" height="34.4" rx="1.5" fill="#fff" stroke="#6c6c6c" stroke-width="1.7"/>
<line x1="1047.4" y1="578" x2="1047.4" y2="637" stroke="#666" stroke-width="1.6"/><rect x="1043.0" y="592.8" width="8.8" height="6.4" rx="1.5" fill="#fff" stroke="#6c6c6c" stroke-width="1.7"/>
<line x1="1062.0" y1="561" x2="1062.0" y2="637" stroke="#666" stroke-width="1.6"/><rect x="1057.6" y="566.8" width="8.8" height="63.4" rx="1.5" fill="#fff" stroke="#6c6c6c" stroke-width="1.7"/>
<line x1="1076.7" y1="561" x2="1076.7" y2="642" stroke="#666" stroke-width="1.6"/><rect x="1071.5" y="566" width="10.4" height="36" fill="#000"/>
<line x1="1091.3" y1="547" x2="1091.3" y2="608" stroke="#666" stroke-width="1.6"/><rect x="1086.9" y="566.8" width="8.8" height="37.4" rx="1.5" fill="#fff" stroke="#6c6c6c" stroke-width="1.7"/>
<line x1="1105.9" y1="526" x2="1105.9" y2="581" stroke="#666" stroke-width="1.6"/><rect x="1101.5" y="531.8" width="8.8" height="34.4" rx="1.5" fill="#fff" stroke="#6c6c6c" stroke-width="1.7"/>
<line x1="1120.6" y1="521" x2="1120.6" y2="559" stroke="#666" stroke-width="1.6"/><rect x="1115.4" y="532" width="10.4" height="13" fill="#000"/>
<line x1="1135.2" y1="544" x2="1135.2" y2="606" stroke="#666" stroke-width="1.6"/><rect x="1130.0" y="544" width="10.4" height="50" fill="#000"/>
<line x1="1149.8" y1="586" x2="1149.8" y2="607" stroke="#666" stroke-width="1.6"/><rect x="1144.6" y="594" width="10.4" height="4" fill="#000"/>
<line x1="1164.4" y1="539" x2="1164.4" y2="597" stroke="#666" stroke-width="1.6"/><rect x="1160.0" y="547.8" width="8.8" height="48.4" rx="1.5" fill="#fff" stroke="#6c6c6c" stroke-width="1.7"/>
<line x1="1179.1" y1="470" x2="1179.1" y2="555" stroke="#666" stroke-width="1.6"/><rect x="1174.7" y="472.8" width="8.8" height="76.4" rx="1.5" fill="#fff" stroke="#6c6c6c" stroke-width="1.7"/>
<line x1="1193.7" y1="439" x2="1193.7" y2="510" stroke="#666" stroke-width="1.6"/><rect x="1189.3" y="451.8" width="8.8" height="22.4" rx="1.5" fill="#fff" stroke="#6c6c6c" stroke-width="1.7"/>
<line x1="1208.3" y1="405" x2="1208.3" y2="464" stroke="#666" stroke-width="1.6"/><rect x="1203.9" y="407.8" width="8.8" height="42.4" rx="1.5" fill="#fff" stroke="#6c6c6c" stroke-width="1.7"/>
<line x1="1223.0" y1="360" x2="1223.0" y2="475" stroke="#666" stroke-width="1.6"/><rect x="1217.8" y="407" width="10.4" height="4" fill="#000"/>
<line x1="1237.6" y1="401" x2="1237.6" y2="485" stroke="#666" stroke-width="1.6"/><rect x="1232.4" y="409" width="10.4" height="16" fill="#000"/>
<line x1="1252.2" y1="419" x2="1252.2" y2="479" stroke="#666" stroke-width="1.6"/><rect x="1247.0" y="425" width="10.4" height="20" fill="#000"/>
<line x1="1266.9" y1="414" x2="1266.9" y2="497" stroke="#666" stroke-width="1.6"/><rect x="1261.7" y="447" width="10.4" height="29" fill="#000"/>
<line x1="1281.5" y1="406" x2="1281.5" y2="486" stroke="#666" stroke-width="1.6"/><rect x="1277.1" y="441.8" width="8.8" height="33.4" rx="1.5" fill="#fff" stroke="#6c6c6c" stroke-width="1.7"/>
<line x1="1296.1" y1="441" x2="1296.1" y2="505" stroke="#666" stroke-width="1.6"/><rect x="1290.9" y="441" width="10.4" height="34" fill="#000"/>
<line x1="1310.8" y1="410" x2="1310.8" y2="489" stroke="#666" stroke-width="1.6"/><rect x="1306.4" y="422.8" width="8.8" height="51.4" rx="1.5" fill="#fff" stroke="#6c6c6c" stroke-width="1.7"/>
<line x1="1325.4" y1="371" x2="1325.4" y2="441" stroke="#666" stroke-width="1.6"/><rect x="1320.2" y="424" width="10.4" height="7" fill="#000"/>
<line x1="1340.0" y1="341" x2="1340.0" y2="465" stroke="#666" stroke-width="1.6"/><rect x="1335.6" y="377.8" width="8.8" height="53.4" rx="1.5" fill="#fff" stroke="#6c6c6c" stroke-width="1.7"/>
<line x1="1354.7" y1="365" x2="1354.7" y2="435" stroke="#666" stroke-width="1.6"/><rect x="1349.5" y="377" width="10.4" height="13" fill="#000"/>
<line x1="1369.3" y1="390" x2="1369.3" y2="479" stroke="#666" stroke-width="1.6"/><rect x="1364.1" y="390" width="10.4" height="51" fill="#000"/>
<line x1="1383.9" y1="390" x2="1383.9" y2="446" stroke="#666" stroke-width="1.6"/><rect x="1379.5" y="406.8" width="8.8" height="34.4" rx="1.5" fill="#fff" stroke="#6c6c6c" stroke-width="1.7"/>
<line x1="1398.5" y1="370" x2="1398.5" y2="430" stroke="#666" stroke-width="1.6"/><rect x="1394.1" y="391.8" width="8.8" height="14.4" rx="1.5" fill="#fff" stroke="#6c6c6c" stroke-width="1.7"/>
<line x1="1413.2" y1="351" x2="1413.2" y2="402" stroke="#666" stroke-width="1.6"/><rect x="1408.8" y="365.8" width="8.8" height="25.4" rx="1.5" fill="#fff" stroke="#6c6c6c" stroke-width="1.7"/>
<line x1="1427.8" y1="285" x2="1427.8" y2="384" stroke="#666" stroke-width="1.6"/><rect x="1423.4" y="295.8" width="8.8" height="69.4" rx="1.5" fill="#fff" stroke="#6c6c6c" stroke-width="1.7"/>
<line x1="1442.4" y1="287" x2="1442.4" y2="372" stroke="#666" stroke-width="1.6"/><rect x="1437.2" y="295" width="10.4" height="50" fill="#000"/>
<line x1="1457.1" y1="312" x2="1457.1" y2="471" stroke="#666" stroke-width="1.6"/><rect x="1451.9" y="344" width="10.4" height="111" fill="#000"/>
<line x1="1471.7" y1="391" x2="1471.7" y2="455" stroke="#666" stroke-width="1.6"/><rect x="1467.3" y="400.8" width="8.8" height="46.4" rx="1.5" fill="#fff" stroke="#6c6c6c" stroke-width="1.7"/>
<line x1="1486.3" y1="401" x2="1486.3" y2="487" stroke="#666" stroke-width="1.6"/><rect x="1481.1" y="401" width="10.4" height="81" fill="#000"/>
<line x1="1501.0" y1="484" x2="1501.0" y2="579" stroke="#666" stroke-width="1.6"/><rect x="1495.8" y="484" width="10.4" height="61" fill="#000"/>
<line x1="1515.6" y1="466" x2="1515.6" y2="560" stroke="#666" stroke-width="1.6"/><rect x="1511.2" y="487.8" width="8.8" height="58.4" rx="1.5" fill="#fff" stroke="#6c6c6c" stroke-width="1.7"/>
<line x1="1530.2" y1="481" x2="1530.2" y2="539" stroke="#666" stroke-width="1.6"/><rect x="1525.0" y="489" width="10.4" height="22" fill="#000"/>
<line x1="1544.9" y1="446" x2="1544.9" y2="517" stroke="#666" stroke-width="1.6"/><rect x="1540.5" y="471.8" width="8.8" height="39.4" rx="1.5" fill="#fff" stroke="#6c6c6c" stroke-width="1.7"/>
<line x1="1559.5" y1="439" x2="1559.5" y2="539" stroke="#666" stroke-width="1.6"/><rect x="1554.3" y="471" width="10.4" height="5" fill="#000"/>
<line x1="1574.1" y1="451" x2="1574.1" y2="528" stroke="#666" stroke-width="1.6"/><rect x="1569.7" y="455.8" width="8.8" height="18.4" rx="1.5" fill="#fff" stroke="#6c6c6c" stroke-width="1.7"/>
<line x1="1588.7" y1="456" x2="1588.7" y2="507" stroke="#666" stroke-width="1.6"/><rect x="1583.5" y="456" width="10.4" height="51" fill="#000"/>
<line x1="1603.4" y1="491" x2="1603.4" y2="519" stroke="#666" stroke-width="1.6"/><rect x="1598.2" y="506" width="10.4" height="13" fill="#000"/>
<line x1="1618.0" y1="471" x2="1618.0" y2="530" stroke="#666" stroke-width="1.6"/><rect x="1613.6" y="514.8" width="8.8" height="4.4" rx="1.5" fill="#fff" stroke="#6c6c6c" stroke-width="1.7"/>
<line x1="1632.6" y1="435" x2="1632.6" y2="515" stroke="#666" stroke-width="1.6"/><rect x="1628.2" y="435.8" width="8.8" height="78.4" rx="1.5" fill="#fff" stroke="#6c6c6c" stroke-width="1.7"/>
<line x1="1647.3" y1="405" x2="1647.3" y2="456" stroke="#666" stroke-width="1.6"/><rect x="1642.1" y="437" width="10.4" height="6" fill="#000"/>
<line x1="1661.9" y1="401" x2="1661.9" y2="455" stroke="#666" stroke-width="1.6"/><rect x="1657.5" y="421.8" width="8.8" height="21.4" rx="1.5" fill="#fff" stroke="#6c6c6c" stroke-width="1.7"/>
<line x1="1676.5" y1="351" x2="1676.5" y2="423" stroke="#666" stroke-width="1.6"/><rect x="1672.1" y="410.8" width="8.8" height="9.4" rx="1.5" fill="#fff" stroke="#6c6c6c" stroke-width="1.7"/>
<line x1="1691.2" y1="372" x2="1691.2" y2="424" stroke="#666" stroke-width="1.6"/><rect x="1686.0" y="411" width="10.4" height="4" fill="#000"/>
<line x1="1705.8" y1="385" x2="1705.8" y2="431" stroke="#666" stroke-width="1.6"/><rect x="1701.4" y="389.8" width="8.8" height="23.4" rx="1.5" fill="#fff" stroke="#6c6c6c" stroke-width="1.7"/>
<line x1="1720.4" y1="390" x2="1720.4" y2="425" stroke="#666" stroke-width="1.6"/><rect x="1715.2" y="390" width="10.4" height="9" fill="#000"/>
<line x1="1735.1" y1="370" x2="1735.1" y2="431" stroke="#666" stroke-width="1.6"/><rect x="1730.7" y="377.8" width="8.8" height="22.4" rx="1.5" fill="#fff" stroke="#6c6c6c" stroke-width="1.7"/>
<line x1="1749.7" y1="350" x2="1749.7" y2="395" stroke="#666" stroke-width="1.6"/><rect x="1744.5" y="379" width="10.4" height="9" fill="#000"/>
<line x1="1764.3" y1="350" x2="1764.3" y2="397" stroke="#666" stroke-width="1.6"/><rect x="1759.9" y="380.8" width="8.8" height="7.4" rx="1.5" fill="#fff" stroke="#6c6c6c" stroke-width="1.7"/>
<line x1="1779.0" y1="324" x2="1779.0" y2="379" stroke="#666" stroke-width="1.6"/><rect x="1774.6" y="336.8" width="8.8" height="41.4" rx="1.5" fill="#fff" stroke="#6c6c6c" stroke-width="1.7"/>
<line x1="1793.6" y1="317" x2="1793.6" y2="351" stroke="#666" stroke-width="1.6"/><rect x="1789.2" y="329.8" width="8.8" height="8.4" rx="1.5" fill="#fff" stroke="#6c6c6c" stroke-width="1.7"/>
<line x1="1808.2" y1="304" x2="1808.2" y2="376" stroke="#666" stroke-width="1.6"/><rect x="1803.2" y="331" width="10" height="3" rx="1.5" fill="#6c6c6c"/>
<line x1="1822.8" y1="326" x2="1822.8" y2="376" stroke="#666" stroke-width="1.6"/><rect x="1817.6" y="334" width="10.4" height="21" fill="#000"/>
<line x1="1837.5" y1="352" x2="1837.5" y2="414" stroke="#666" stroke-width="1.6"/><rect x="1832.3" y="356" width="10.4" height="19" fill="#000"/>
<line x1="1852.1" y1="341" x2="1852.1" y2="374" stroke="#666" stroke-width="1.6"/><rect x="1847.7" y="360.8" width="8.8" height="12.4" rx="1.5" fill="#fff" stroke="#6c6c6c" stroke-width="1.7"/>
<line x1="1866.7" y1="301" x2="1866.7" y2="366" stroke="#666" stroke-width="1.6"/><rect x="1862.3" y="301.8" width="8.8" height="58.4" rx="1.5" fill="#fff" stroke="#6c6c6c" stroke-width="1.7"/>
<line x1="1881.4" y1="266" x2="1881.4" y2="325" stroke="#666" stroke-width="1.6"/><rect x="1876.2" y="302" width="10.4" height="23" fill="#000"/>
<line x1="1896.0" y1="264" x2="1896.0" y2="329" stroke="#666" stroke-width="1.6"/><rect x="1891.6" y="264.8" width="8.8" height="56.4" rx="1.5" fill="#fff" stroke="#6c6c6c" stroke-width="1.7"/>
<line x1="1910.6" y1="245" x2="1910.6" y2="299" stroke="#666" stroke-width="1.6"/><rect x="1906.2" y="249.8" width="8.8" height="10.4" rx="1.5" fill="#fff" stroke="#6c6c6c" stroke-width="1.7"/>
<line x1="1925.3" y1="249" x2="1925.3" y2="304" stroke="#666" stroke-width="1.6"/><rect x="1920.1" y="249" width="10.4" height="48" fill="#000"/>
<line x1="1939.9" y1="281" x2="1939.9" y2="317" stroke="#666" stroke-width="1.6"/><rect x="1934.7" y="301" width="10.4" height="7" fill="#000"/>
<line x1="1954.5" y1="271" x2="1954.5" y2="337" stroke="#666" stroke-width="1.6"/><rect x="1950.1" y="281.8" width="8.8" height="26.4" rx="1.5" fill="#fff" stroke="#6c6c6c" stroke-width="1.7"/>
<line x1="1969.2" y1="251" x2="1969.2" y2="284" stroke="#666" stroke-width="1.6"/><rect x="1964.8" y="263.8" width="8.8" height="15.4" rx="1.5" fill="#fff" stroke="#6c6c6c" stroke-width="1.7"/>
<line x1="1983.8" y1="246" x2="1983.8" y2="270" stroke="#666" stroke-width="1.6"/><rect x="1979.4" y="254.8" width="8.8" height="6.4" rx="1.5" fill="#fff" stroke="#6c6c6c" stroke-width="1.7"/>
<line x1="1998.4" y1="197" x2="1998.4" y2="260" stroke="#666" stroke-width="1.6"/><rect x="1994.0" y="199.8" width="8.8" height="52.4" rx="1.5" fill="#fff" stroke="#6c6c6c" stroke-width="1.7"/>
<line x1="2013.0" y1="149" x2="2013.0" y2="205" stroke="#666" stroke-width="1.6"/><rect x="2008.6" y="161.8" width="8.8" height="36.4" rx="1.5" fill="#fff" stroke="#6c6c6c" stroke-width="1.7"/>
<line x1="2027.7" y1="140" x2="2027.7" y2="257" stroke="#666" stroke-width="1.6"/><rect x="2022.5" y="158" width="10.4" height="80" fill="#000"/>
<line x1="2042.3" y1="193" x2="2042.3" y2="245" stroke="#666" stroke-width="1.6"/><rect x="2037.9" y="225.8" width="8.8" height="12.4" rx="1.5" fill="#fff" stroke="#6c6c6c" stroke-width="1.7"/>
</g><g>
<line x1="23.2" y1="1070" x2="23.2" y2="1170" stroke="#a4a4ee" stroke-width="1.6"/><rect x="18.8" y="1074.8" width="8.8" height="48.4" rx="1.5" fill="#fff" stroke="#a6a6ee" stroke-width="1.7"/>
<line x1="37.9" y1="1015" x2="37.9" y2="1145" stroke="#a4a4ee" stroke-width="1.6"/><rect x="32.7" y="1074" width="10.4" height="61" fill="#5555e6"/>
<line x1="52.5" y1="1096" x2="52.5" y2="1196" stroke="#a4a4ee" stroke-width="1.6"/><rect x="47.3" y="1135" width="10.4" height="45" fill="#5555e6"/>
<line x1="67.1" y1="1115" x2="67.1" y2="1216" stroke="#a4a4ee" stroke-width="1.6"/><rect x="62.7" y="1169.8" width="8.8" height="8.4" rx="1.5" fill="#fff" stroke="#a6a6ee" stroke-width="1.7"/>
<line x1="81.8" y1="1115" x2="81.8" y2="1202" stroke="#a4a4ee" stroke-width="1.6"/><rect x="77.4" y="1126.8" width="8.8" height="41.4" rx="1.5" fill="#fff" stroke="#a6a6ee" stroke-width="1.7"/>
<line x1="96.4" y1="1059" x2="96.4" y2="1159" stroke="#a4a4ee" stroke-width="1.6"/><rect x="91.2" y="1126" width="10.4" height="13" fill="#5555e6"/>
<line x1="111.0" y1="1136" x2="111.0" y2="1302" stroke="#a4a4ee" stroke-width="1.6"/><rect x="105.8" y="1136" width="10.4" height="98" fill="#5555e6"/>
<line x1="125.6" y1="1126" x2="125.6" y2="1355" stroke="#a4a4ee" stroke-width="1.6"/><rect x="121.2" y="1186.8" width="8.8" height="41.4" rx="1.5" fill="#fff" stroke="#a6a6ee" stroke-width="1.7"/>
<line x1="140.3" y1="1119" x2="140.3" y2="1432" stroke="#a4a4ee" stroke-width="1.6"/><rect x="135.1" y="1186" width="10.4" height="185" fill="#5555e6"/>
<line x1="154.9" y1="1235" x2="154.9" y2="1404" stroke="#a4a4ee" stroke-width="1.6"/><rect x="150.5" y="1249.8" width="8.8" height="119.4" rx="1.5" fill="#fff" stroke="#a6a6ee" stroke-width="1.7"/>
<line x1="169.5" y1="1166" x2="169.5" y2="1347" stroke="#a4a4ee" stroke-width="1.6"/><rect x="165.1" y="1172.8" width="8.8" height="76.4" rx="1.5" fill="#fff" stroke="#a6a6ee" stroke-width="1.7"/>
<line x1="184.2" y1="1117" x2="184.2" y2="1269" stroke="#a4a4ee" stroke-width="1.6"/><rect x="179.8" y="1121.8" width="8.8" height="51.4" rx="1.5" fill="#fff" stroke="#a6a6ee" stroke-width="1.7"/>
<line x1="198.8" y1="1041" x2="198.8" y2="1165" stroke="#a4a4ee" stroke-width="1.6"/><rect x="194.4" y="1106.8" width="8.8" height="14.4" rx="1.5" fill="#fff" stroke="#a6a6ee" stroke-width="1.7"/>
<line x1="213.4" y1="1081" x2="213.4" y2="1171" stroke="#a4a4ee" stroke-width="1.6"/><rect x="208.2" y="1110" width="10.4" height="22" fill="#5555e6"/>
<line x1="228.1" y1="1119" x2="228.1" y2="1194" stroke="#a4a4ee" stroke-width="1.6"/><rect x="222.9" y="1132" width="10.4" height="35" fill="#5555e6"/>
<line x1="242.7" y1="1067" x2="242.7" y2="1177" stroke="#a4a4ee" stroke-width="1.6"/><rect x="238.3" y="1067.8" width="8.8" height="98.4" rx="1.5" fill="#fff" stroke="#a6a6ee" stroke-width="1.7"/>
<line x1="257.3" y1="1057" x2="257.3" y2="1140" stroke="#a4a4ee" stroke-width="1.6"/><rect x="252.1" y="1067" width="10.4" height="58" fill="#5555e6"/>
<line x1="272.0" y1="1090" x2="272.0" y2="1146" stroke="#a4a4ee" stroke-width="1.6"/><rect x="267.6" y="1094.8" width="8.8" height="29.4" rx="1.5" fill="#fff" stroke="#a6a6ee" stroke-width="1.7"/>
<line x1="286.6" y1="1076" x2="286.6" y2="1120" stroke="#a4a4ee" stroke-width="1.6"/><rect x="281.6" y="1095" width="10" height="3" rx="1.5" fill="#5555e6"/>
<line x1="301.2" y1="1024" x2="301.2" y2="1104" stroke="#a4a4ee" stroke-width="1.6"/><rect x="296.8" y="1039.8" width="8.8" height="56.4" rx="1.5" fill="#fff" stroke="#a6a6ee" stroke-width="1.7"/>
<line x1="315.9" y1="980" x2="315.9" y2="1060" stroke="#a4a4ee" stroke-width="1.6"/><rect x="311.5" y="1002.8" width="8.8" height="37.4" rx="1.5" fill="#fff" stroke="#a6a6ee" stroke-width="1.7"/>
<line x1="330.5" y1="867" x2="330.5" y2="1005" stroke="#a4a4ee" stroke-width="1.6"/><rect x="326.1" y="880.8" width="8.8" height="123.4" rx="1.5" fill="#fff" stroke="#a6a6ee" stroke-width="1.7"/>
<line x1="345.1" y1="844" x2="345.1" y2="975" stroke="#a4a4ee" stroke-width="1.6"/><rect x="339.9" y="881" width="10.4" height="74" fill="#5555e6"/>
<line x1="359.7" y1="896" x2="359.7" y2="977" stroke="#a4a4ee" stroke-width="1.6"/><rect x="354.5" y="955" width="10.4" height="14" fill="#5555e6"/>
<line x1="374.4" y1="924" x2="374.4" y2="1004" stroke="#a4a4ee" stroke-width="1.6"/><rect x="370.0" y="935.8" width="8.8" height="33.4" rx="1.5" fill="#fff" stroke="#a6a6ee" stroke-width="1.7"/>
<line x1="389.0" y1="911" x2="389.0" y2="965" stroke="#a4a4ee" stroke-width="1.6"/><rect x="383.8" y="935" width="10.4" height="5" fill="#5555e6"/>
<line x1="403.6" y1="880" x2="403.6" y2="940" stroke="#a4a4ee" stroke-width="1.6"/><rect x="399.2" y="880.8" width="8.8" height="58.4" rx="1.5" fill="#fff" stroke="#a6a6ee" stroke-width="1.7"/>
<line x1="418.3" y1="827" x2="418.3" y2="900" stroke="#a4a4ee" stroke-width="1.6"/><rect x="413.9" y="849.8" width="8.8" height="30.4" rx="1.5" fill="#fff" stroke="#a6a6ee" stroke-width="1.7"/>
<line x1="432.9" y1="809" x2="432.9" y2="866" stroke="#a4a4ee" stroke-width="1.6"/><rect x="428.5" y="829.8" width="8.8" height="21.4" rx="1.5" fill="#fff" stroke="#a6a6ee" stroke-width="1.7"/>
<line x1="447.5" y1="830" x2="447.5" y2="901" stroke="#a4a4ee" stroke-width="1.6"/><rect x="442.3" y="830" width="10.4" height="49" fill="#5555e6"/>
<line x1="462.2" y1="822" x2="462.2" y2="885" stroke="#a4a4ee" stroke-width="1.6"/><rect x="457.8" y="825.8" width="8.8" height="53.4" rx="1.5" fill="#fff" stroke="#a6a6ee" stroke-width="1.7"/>
<line x1="476.8" y1="770" x2="476.8" y2="826" stroke="#a4a4ee" stroke-width="1.6"/><rect x="472.4" y="776.8" width="8.8" height="48.4" rx="1.5" fill="#fff" stroke="#a6a6ee" stroke-width="1.7"/>
<line x1="491.4" y1="722" x2="491.4" y2="776" stroke="#a4a4ee" stroke-width="1.6"/><rect x="487.0" y="737.8" width="8.8" height="37.4" rx="1.5" fill="#fff" stroke="#a6a6ee" stroke-width="1.7"/>
<line x1="506.1" y1="692" x2="506.1" y2="737" stroke="#a4a4ee" stroke-width="1.6"/><rect x="501.7" y="720.8" width="8.8" height="15.4" rx="1.5" fill="#fff" stroke="#a6a6ee" stroke-width="1.7"/>
<line x1="520.7" y1="687" x2="520.7" y2="735" stroke="#a4a4ee" stroke-width="1.6"/><rect x="516.3" y="695.8" width="8.8" height="20.4" rx="1.5" fill="#fff" stroke="#a6a6ee" stroke-width="1.7"/>
<line x1="535.3" y1="694" x2="535.3" y2="777" stroke="#a4a4ee" stroke-width="1.6"/><rect x="530.1" y="694" width="10.4" height="63" fill="#5555e6"/>
<line x1="549.9" y1="697" x2="549.9" y2="764" stroke="#a4a4ee" stroke-width="1.6"/><rect x="545.5" y="700.8" width="8.8" height="57.4" rx="1.5" fill="#fff" stroke="#a6a6ee" stroke-width="1.7"/>
<line x1="564.6" y1="676" x2="564.6" y2="722" stroke="#a4a4ee" stroke-width="1.6"/><rect x="560.2" y="686.8" width="8.8" height="13.4" rx="1.5" fill="#fff" stroke="#a6a6ee" stroke-width="1.7"/>
<line x1="579.2" y1="596" x2="579.2" y2="699" stroke="#a4a4ee" stroke-width="1.6"/><rect x="574.8" y="596.8" width="8.8" height="89.4" rx="1.5" fill="#fff" stroke="#a6a6ee" stroke-width="1.7"/>
<line x1="593.8" y1="591" x2="593.8" y2="665" stroke="#a4a4ee" stroke-width="1.6"/><rect x="588.6" y="597" width="10.4" height="17" fill="#5555e6"/>
<line x1="608.5" y1="602" x2="608.5" y2="644" stroke="#a4a4ee" stroke-width="1.6"/><rect x="603.3" y="616" width="10.4" height="23" fill="#5555e6"/>
<line x1="623.1" y1="556" x2="623.1" y2="654" stroke="#a4a4ee" stroke-width="1.6"/><rect x="618.7" y="556.8" width="8.8" height="82.4" rx="1.5" fill="#fff" stroke="#a6a6ee" stroke-width="1.7"/>
<line x1="637.7" y1="394" x2="637.7" y2="569" stroke="#a4a4ee" stroke-width="1.6"/><rect x="633.3" y="441.8" width="8.8" height="116.4" rx="1.5" fill="#fff" stroke="#a6a6ee" stroke-width="1.7"/>
<line x1="652.4" y1="386" x2="652.4" y2="617" stroke="#a4a4ee" stroke-width="1.6"/><rect x="647.2" y="441" width="10.4" height="118" fill="#5555e6"/>
<line x1="667.0" y1="482" x2="667.0" y2="576" stroke="#a4a4ee" stroke-width="1.6"/><rect x="662.6" y="505.8" width="8.8" height="53.4" rx="1.5" fill="#fff" stroke="#a6a6ee" stroke-width="1.7"/>
<line x1="681.6" y1="456" x2="681.6" y2="532" stroke="#a4a4ee" stroke-width="1.6"/><rect x="677.2" y="486.8" width="8.8" height="17.4" rx="1.5" fill="#fff" stroke="#a6a6ee" stroke-width="1.7"/>
<line x1="696.3" y1="477" x2="696.3" y2="624" stroke="#a4a4ee" stroke-width="1.6"/><rect x="691.1" y="486" width="10.4" height="110" fill="#5555e6"/>
<line x1="710.9" y1="486" x2="710.9" y2="598" stroke="#a4a4ee" stroke-width="1.6"/><rect x="706.5" y="489.8" width="8.8" height="104.4" rx="1.5" fill="#fff" stroke="#a6a6ee" stroke-width="1.7"/>
<line x1="725.5" y1="460" x2="725.5" y2="515" stroke="#a4a4ee" stroke-width="1.6"/><rect x="720.3" y="491" width="10.4" height="24" fill="#5555e6"/>
<line x1="740.1" y1="500" x2="740.1" y2="556" stroke="#a4a4ee" stroke-width="1.6"/><rect x="734.9" y="516" width="10.4" height="15" fill="#5555e6"/>
<line x1="754.8" y1="524" x2="754.8" y2="565" stroke="#a4a4ee" stroke-width="1.6"/><rect x="749.6" y="531" width="10.4" height="4" fill="#5555e6"/>
<line x1="769.4" y1="534" x2="769.4" y2="621" stroke="#a4a4ee" stroke-width="1.6"/><rect x="764.2" y="534" width="10.4" height="65" fill="#5555e6"/>
<line x1="784.0" y1="550" x2="784.0" y2="609" stroke="#a4a4ee" stroke-width="1.6"/><rect x="779.6" y="576.8" width="8.8" height="22.4" rx="1.5" fill="#fff" stroke="#a6a6ee" stroke-width="1.7"/>
<line x1="798.7" y1="556" x2="798.7" y2="604" stroke="#a4a4ee" stroke-width="1.6"/><rect x="794.3" y="565.8" width="8.8" height="9.4" rx="1.5" fill="#fff" stroke="#a6a6ee" stroke-width="1.7"/>
<line x1="813.3" y1="515" x2="813.3" y2="584" stroke="#a4a4ee" stroke-width="1.6"/><rect x="808.9" y="517.8" width="8.8" height="47.4" rx="1.5" fill="#fff" stroke="#a6a6ee" stroke-width="1.7"/>
<line x1="827.9" y1="464" x2="827.9" y2="522" stroke="#a4a4ee" stroke-width="1.6"/><rect x="823.5" y="469.8" width="8.8" height="49.4" rx="1.5" fill="#fff" stroke="#a6a6ee" stroke-width="1.7"/>
<line x1="842.6" y1="457" x2="842.6" y2="515" stroke="#a4a4ee" stroke-width="1.6"/><rect x="837.4" y="471" width="10.4" height="29" fill="#5555e6"/>
<line x1="857.2" y1="482" x2="857.2" y2="530" stroke="#a4a4ee" stroke-width="1.6"/><rect x="852.0" y="501" width="10.4" height="4" fill="#5555e6"/>
<line x1="871.8" y1="500" x2="871.8" y2="552" stroke="#a4a4ee" stroke-width="1.6"/><rect x="866.6" y="505" width="10.4" height="22" fill="#5555e6"/>
<line x1="886.5" y1="516" x2="886.5" y2="557" stroke="#a4a4ee" stroke-width="1.6"/><rect x="881.3" y="529" width="10.4" height="6" fill="#5555e6"/>
<line x1="901.1" y1="524" x2="901.1" y2="601" stroke="#a4a4ee" stroke-width="1.6"/><rect x="895.9" y="536" width="10.4" height="51" fill="#5555e6"/>
<line x1="915.7" y1="565" x2="915.7" y2="597" stroke="#a4a4ee" stroke-width="1.6"/><rect x="911.3" y="576.8" width="8.8" height="12.4" rx="1.5" fill="#fff" stroke="#a6a6ee" stroke-width="1.7"/>
<line x1="930.4" y1="573" x2="930.4" y2="765" stroke="#a4a4ee" stroke-width="1.6"/><rect x="925.2" y="575" width="10.4" height="80" fill="#5555e6"/>
<line x1="945.0" y1="650" x2="945.0" y2="754" stroke="#a4a4ee" stroke-width="1.6"/><rect x="939.8" y="656" width="10.4" height="60" fill="#5555e6"/>
<line x1="959.6" y1="699" x2="959.6" y2="880" stroke="#a4a4ee" stroke-width="1.6"/><rect x="954.4" y="719" width="10.4" height="115" fill="#5555e6"/>
<line x1="974.2" y1="747" x2="974.2" y2="857" stroke="#a4a4ee" stroke-width="1.6"/><rect x="969.8" y="764.8" width="8.8" height="69.4" rx="1.5" fill="#fff" stroke="#a6a6ee" stroke-width="1.7"/>
<line x1="988.9" y1="700" x2="988.9" y2="804" stroke="#a4a4ee" stroke-width="1.6"/><rect x="984.5" y="711.8" width="8.8" height="51.4" rx="1.5" fill="#fff" stroke="#a6a6ee" stroke-width="1.7"/>
<line x1="1003.5" y1="699" x2="1003.5" y2="787" stroke="#a4a4ee" stroke-width="1.6"/><rect x="998.3" y="712" width="10.4" height="48" fill="#5555e6"/>
<line x1="1018.1" y1="737" x2="1018.1" y2="820" stroke="#a4a4ee" stroke-width="1.6"/><rect x="1012.9" y="761" width="10.4" height="4" fill="#5555e6"/>
<line x1="1032.8" y1="764" x2="1032.8" y2="840" stroke="#a4a4ee" stroke-width="1.6"/><rect x="1027.6" y="766" width="10.4" height="54" fill="#5555e6"/>
<line x1="1047.4" y1="810" x2="1047.4" y2="879" stroke="#a4a4ee" stroke-width="1.6"/><rect x="1042.2" y="821" width="10.4" height="41" fill="#5555e6"/>
<line x1="1062.0" y1="800" x2="1062.0" y2="866" stroke="#a4a4ee" stroke-width="1.6"/><rect x="1057.6" y="826.8" width="8.8" height="36.4" rx="1.5" fill="#fff" stroke="#a6a6ee" stroke-width="1.7"/>
<line x1="1076.7" y1="751" x2="1076.7" y2="831" stroke="#a4a4ee" stroke-width="1.6"/><rect x="1072.3" y="762.8" width="8.8" height="65.4" rx="1.5" fill="#fff" stroke="#a6a6ee" stroke-width="1.7"/>
<line x1="1091.3" y1="710" x2="1091.3" y2="797" stroke="#a4a4ee" stroke-width="1.6"/><rect x="1086.1" y="764" width="10.4" height="31" fill="#5555e6"/>
<line x1="1105.9" y1="759" x2="1105.9" y2="806" stroke="#a4a4ee" stroke-width="1.6"/><rect x="1101.5" y="789.8" width="8.8" height="6.4" rx="1.5" fill="#fff" stroke="#a6a6ee" stroke-width="1.7"/>
<line x1="1120.6" y1="772" x2="1120.6" y2="824" stroke="#a4a4ee" stroke-width="1.6"/><rect x="1115.4" y="791" width="10.4" height="31" fill="#5555e6"/>
<line x1="1135.2" y1="759" x2="1135.2" y2="831" stroke="#a4a4ee" stroke-width="1.6"/><rect x="1130.8" y="761.8" width="8.8" height="61.4" rx="1.5" fill="#fff" stroke="#a6a6ee" stroke-width="1.7"/>
<line x1="1149.8" y1="750" x2="1149.8" y2="798" stroke="#a4a4ee" stroke-width="1.6"/><rect x="1144.6" y="764" width="10.4" height="32" fill="#5555e6"/>
<line x1="1164.4" y1="766" x2="1164.4" y2="805" stroke="#a4a4ee" stroke-width="1.6"/><rect x="1160.0" y="791.8" width="8.8" height="6.4" rx="1.5" fill="#fff" stroke="#a6a6ee" stroke-width="1.7"/>
<line x1="1179.1" y1="790" x2="1179.1" y2="859" stroke="#a4a4ee" stroke-width="1.6"/><rect x="1173.9" y="792" width="10.4" height="65" fill="#5555e6"/>
<line x1="1193.7" y1="820" x2="1193.7" y2="897" stroke="#a4a4ee" stroke-width="1.6"/><rect x="1188.5" y="859" width="10.4" height="28" fill="#5555e6"/>
<line x1="1208.3" y1="857" x2="1208.3" y2="922" stroke="#a4a4ee" stroke-width="1.6"/><rect x="1203.1" y="887" width="10.4" height="4" fill="#5555e6"/>
<line x1="1223.0" y1="831" x2="1223.0" y2="914" stroke="#a4a4ee" stroke-width="1.6"/><rect x="1218.6" y="876.8" width="8.8" height="16.4" rx="1.5" fill="#fff" stroke="#a6a6ee" stroke-width="1.7"/>
<line x1="1237.6" y1="776" x2="1237.6" y2="892" stroke="#a4a4ee" stroke-width="1.6"/><rect x="1233.2" y="796.8" width="8.8" height="79.4" rx="1.5" fill="#fff" stroke="#a6a6ee" stroke-width="1.7"/>
<line x1="1252.2" y1="795" x2="1252.2" y2="872" stroke="#a4a4ee" stroke-width="1.6"/><rect x="1247.0" y="797" width="10.4" height="55" fill="#5555e6"/>
<line x1="1266.9" y1="846" x2="1266.9" y2="914" stroke="#a4a4ee" stroke-width="1.6"/><rect x="1261.7" y="852" width="10.4" height="24" fill="#5555e6"/>
<line x1="1281.5" y1="842" x2="1281.5" y2="885" stroke="#a4a4ee" stroke-width="1.6"/><rect x="1276.5" y="875" width="10" height="3" rx="1.5" fill="#a6a6ee"/>
<line x1="1296.1" y1="837" x2="1296.1" y2="888" stroke="#a4a4ee" stroke-width="1.6"/><rect x="1291.7" y="871.8" width="8.8" height="7.4" rx="1.5" fill="#fff" stroke="#a6a6ee" stroke-width="1.7"/>
<line x1="1310.8" y1="860" x2="1310.8" y2="895" stroke="#a4a4ee" stroke-width="1.6"/><rect x="1305.6" y="874" width="10.4" height="13" fill="#5555e6"/>
<line x1="1325.4" y1="885" x2="1325.4" y2="974" stroke="#a4a4ee" stroke-width="1.6"/><rect x="1320.2" y="887" width="10.4" height="68" fill="#5555e6"/>
<line x1="1340.0" y1="890" x2="1340.0" y2="970" stroke="#a4a4ee" stroke-width="1.6"/><rect x="1335.6" y="919.8" width="8.8" height="35.4" rx="1.5" fill="#fff" stroke="#a6a6ee" stroke-width="1.7"/>
<line x1="1354.7" y1="901" x2="1354.7" y2="957" stroke="#a4a4ee" stroke-width="1.6"/><rect x="1349.5" y="920" width="10.4" height="17" fill="#5555e6"/>
<line x1="1369.3" y1="870" x2="1369.3" y2="946" stroke="#a4a4ee" stroke-width="1.6"/><rect x="1364.9" y="911.8" width="8.8" height="26.4" rx="1.5" fill="#fff" stroke="#a6a6ee" stroke-width="1.7"/>
<line x1="1383.9" y1="912" x2="1383.9" y2="996" stroke="#a4a4ee" stroke-width="1.6"/><rect x="1378.7" y="914" width="10.4" height="70" fill="#5555e6"/>
<line x1="1398.5" y1="961" x2="1398.5" y2="1002" stroke="#a4a4ee" stroke-width="1.6"/><rect x="1393.3" y="985" width="10.4" height="4" fill="#5555e6"/>
<line x1="1413.2" y1="926" x2="1413.2" y2="989" stroke="#a4a4ee" stroke-width="1.6"/><rect x="1408.8" y="934.8" width="8.8" height="51.4" rx="1.5" fill="#fff" stroke="#a6a6ee" stroke-width="1.7"/>
<line x1="1427.8" y1="811" x2="1427.8" y2="938" stroke="#a4a4ee" stroke-width="1.6"/><rect x="1423.4" y="832.8" width="8.8" height="102.4" rx="1.5" fill="#fff" stroke="#a6a6ee" stroke-width="1.7"/>
<line x1="1442.4" y1="796" x2="1442.4" y2="859" stroke="#a4a4ee" stroke-width="1.6"/><rect x="1437.2" y="832" width="10.4" height="4" fill="#5555e6"/>
<line x1="1457.1" y1="784" x2="1457.1" y2="856" stroke="#a4a4ee" stroke-width="1.6"/><rect x="1452.7" y="786.8" width="8.8" height="48.4" rx="1.5" fill="#fff" stroke="#a6a6ee" stroke-width="1.7"/>
<line x1="1471.7" y1="781" x2="1471.7" y2="862" stroke="#a4a4ee" stroke-width="1.6"/><rect x="1466.5" y="789" width="10.4" height="62" fill="#5555e6"/>
<line x1="1486.3" y1="739" x2="1486.3" y2="860" stroke="#a4a4ee" stroke-width="1.6"/><rect x="1481.9" y="766.8" width="8.8" height="84.4" rx="1.5" fill="#fff" stroke="#a6a6ee" stroke-width="1.7"/>
<line x1="1501.0" y1="726" x2="1501.0" y2="775" stroke="#a4a4ee" stroke-width="1.6"/><rect x="1496.6" y="744.8" width="8.8" height="20.4" rx="1.5" fill="#fff" stroke="#a6a6ee" stroke-width="1.7"/>
<line x1="1515.6" y1="731" x2="1515.6" y2="778" stroke="#a4a4ee" stroke-width="1.6"/><rect x="1510.4" y="746" width="10.4" height="30" fill="#5555e6"/>
<line x1="1530.2" y1="742" x2="1530.2" y2="781" stroke="#a4a4ee" stroke-width="1.6"/><rect x="1525.8" y="771.8" width="8.8" height="4.4" rx="1.5" fill="#fff" stroke="#a6a6ee" stroke-width="1.7"/>
<line x1="1544.9" y1="767" x2="1544.9" y2="829" stroke="#a4a4ee" stroke-width="1.6"/><rect x="1539.7" y="769" width="10.4" height="32" fill="#5555e6"/>
<line x1="1559.5" y1="754" x2="1559.5" y2="888" stroke="#a4a4ee" stroke-width="1.6"/><rect x="1554.3" y="801" width="10.4" height="85" fill="#5555e6"/>
<line x1="1574.1" y1="874" x2="1574.1" y2="931" stroke="#a4a4ee" stroke-width="1.6"/><rect x="1568.9" y="886" width="10.4" height="23" fill="#5555e6"/>
<line x1="1588.7" y1="846" x2="1588.7" y2="909" stroke="#a4a4ee" stroke-width="1.6"/><rect x="1584.3" y="854.8" width="8.8" height="51.4" rx="1.5" fill="#fff" stroke="#a6a6ee" stroke-width="1.7"/>
<line x1="1603.4" y1="812" x2="1603.4" y2="865" stroke="#a4a4ee" stroke-width="1.6"/><rect x="1599.0" y="824.8" width="8.8" height="30.4" rx="1.5" fill="#fff" stroke="#a6a6ee" stroke-width="1.7"/>
<line x1="1618.0" y1="814" x2="1618.0" y2="870" stroke="#a4a4ee" stroke-width="1.6"/><rect x="1613.0" y="823" width="10" height="3" rx="1.5" fill="#a6a6ee"/>
<line x1="1632.6" y1="786" x2="1632.6" y2="830" stroke="#a4a4ee" stroke-width="1.6"/><rect x="1628.2" y="807.8" width="8.8" height="15.4" rx="1.5" fill="#fff" stroke="#a6a6ee" stroke-width="1.7"/>
<line x1="1647.3" y1="805" x2="1647.3" y2="854" stroke="#a4a4ee" stroke-width="1.6"/><rect x="1642.3" y="806" width="10" height="3" rx="1.5" fill="#a6a6ee"/>
<line x1="1661.9" y1="786" x2="1661.9" y2="832" stroke="#a4a4ee" stroke-width="1.6"/><rect x="1656.7" y="807" width="10.4" height="23" fill="#5555e6"/>
<line x1="1676.5" y1="804" x2="1676.5" y2="864" stroke="#a4a4ee" stroke-width="1.6"/><rect x="1672.1" y="806.8" width="8.8" height="22.4" rx="1.5" fill="#fff" stroke="#a6a6ee" stroke-width="1.7"/>
<line x1="1691.2" y1="764" x2="1691.2" y2="821" stroke="#a4a4ee" stroke-width="1.6"/><rect x="1686.8" y="766.8" width="8.8" height="42.4" rx="1.5" fill="#fff" stroke="#a6a6ee" stroke-width="1.7"/>
<line x1="1705.8" y1="739" x2="1705.8" y2="801" stroke="#a4a4ee" stroke-width="1.6"/><rect x="1700.6" y="766" width="10.4" height="33" fill="#5555e6"/>
<line x1="1720.4" y1="779" x2="1720.4" y2="815" stroke="#a4a4ee" stroke-width="1.6"/><rect x="1715.2" y="799" width="10.4" height="6" fill="#5555e6"/>
<line x1="1735.1" y1="785" x2="1735.1" y2="809" stroke="#a4a4ee" stroke-width="1.6"/><rect x="1730.1" y="803" width="10" height="3" rx="1.5" fill="#a6a6ee"/>
<line x1="1749.7" y1="777" x2="1749.7" y2="836" stroke="#a4a4ee" stroke-width="1.6"/><rect x="1745.3" y="780.8" width="8.8" height="23.4" rx="1.5" fill="#fff" stroke="#a6a6ee" stroke-width="1.7"/>
<line x1="1764.3" y1="732" x2="1764.3" y2="783" stroke="#a4a4ee" stroke-width="1.6"/><rect x="1759.9" y="750.8" width="8.8" height="29.4" rx="1.5" fill="#fff" stroke="#a6a6ee" stroke-width="1.7"/>
<line x1="1779.0" y1="736" x2="1779.0" y2="777" stroke="#a4a4ee" stroke-width="1.6"/><rect x="1773.8" y="750" width="10.4" height="20" fill="#5555e6"/>
<line x1="1793.6" y1="740" x2="1793.6" y2="782" stroke="#a4a4ee" stroke-width="1.6"/><rect x="1789.2" y="764.8" width="8.8" height="4.4" rx="1.5" fill="#fff" stroke="#a6a6ee" stroke-width="1.7"/>
<line x1="1808.2" y1="734" x2="1808.2" y2="773" stroke="#a4a4ee" stroke-width="1.6"/><rect x="1803.0" y="764" width="10.4" height="7" fill="#5555e6"/>
<line x1="1822.8" y1="764" x2="1822.8" y2="799" stroke="#a4a4ee" stroke-width="1.6"/><rect x="1817.6" y="771" width="10.4" height="13" fill="#5555e6"/>
<line x1="1837.5" y1="777" x2="1837.5" y2="826" stroke="#a4a4ee" stroke-width="1.6"/><rect x="1832.3" y="784" width="10.4" height="36" fill="#5555e6"/>
<line x1="1852.1" y1="812" x2="1852.1" y2="854" stroke="#a4a4ee" stroke-width="1.6"/><rect x="1846.9" y="821" width="10.4" height="23" fill="#5555e6"/>
<line x1="1866.7" y1="843" x2="1866.7" y2="899" stroke="#a4a4ee" stroke-width="1.6"/><rect x="1861.5" y="845" width="10.4" height="17" fill="#5555e6"/>
<line x1="1881.4" y1="855" x2="1881.4" y2="879" stroke="#a4a4ee" stroke-width="1.6"/><rect x="1876.2" y="864" width="10.4" height="7" fill="#5555e6"/>
<line x1="1896.0" y1="826" x2="1896.0" y2="879" stroke="#a4a4ee" stroke-width="1.6"/><rect x="1891.6" y="850.8" width="8.8" height="20.4" rx="1.5" fill="#fff" stroke="#a6a6ee" stroke-width="1.7"/>
<line x1="1910.6" y1="832" x2="1910.6" y2="867" stroke="#a4a4ee" stroke-width="1.6"/><rect x="1906.2" y="846.8" width="8.8" height="3.4" rx="1.5" fill="#fff" stroke="#a6a6ee" stroke-width="1.7"/>
<line x1="1925.3" y1="794" x2="1925.3" y2="848" stroke="#a4a4ee" stroke-width="1.6"/><rect x="1920.9" y="796.8" width="8.8" height="48.4" rx="1.5" fill="#fff" stroke="#a6a6ee" stroke-width="1.7"/>
<line x1="1939.9" y1="762" x2="1939.9" y2="801" stroke="#a4a4ee" stroke-width="1.6"/><rect x="1935.5" y="766.8" width="8.8" height="29.4" rx="1.5" fill="#fff" stroke="#a6a6ee" stroke-width="1.7"/>
<line x1="1954.5" y1="747" x2="1954.5" y2="781" stroke="#a4a4ee" stroke-width="1.6"/><rect x="1949.3" y="766" width="10.4" height="6" fill="#5555e6"/>
<line x1="1969.2" y1="765" x2="1969.2" y2="797" stroke="#a4a4ee" stroke-width="1.6"/><rect x="1964.0" y="772" width="10.4" height="17" fill="#5555e6"/>
<line x1="1983.8" y1="777" x2="1983.8" y2="811" stroke="#a4a4ee" stroke-width="1.6"/><rect x="1978.6" y="790" width="10.4" height="6" fill="#5555e6"/>
<line x1="1998.4" y1="776" x2="1998.4" y2="810" stroke="#a4a4ee" stroke-width="1.6"/><rect x="1994.0" y="779.8" width="8.8" height="16.4" rx="1.5" fill="#fff" stroke="#a6a6ee" stroke-width="1.7"/>
<line x1="2013.0" y1="680" x2="2013.0" y2="781" stroke="#a4a4ee" stroke-width="1.6"/><rect x="2008.6" y="701.8" width="8.8" height="76.4" rx="1.5" fill="#fff" stroke="#a6a6ee" stroke-width="1.7"/>
<line x1="2027.7" y1="670" x2="2027.7" y2="722" stroke="#a4a4ee" stroke-width="1.6"/><rect x="2023.3" y="697.8" width="8.8" height="13.4" rx="1.5" fill="#fff" stroke="#a6a6ee" stroke-width="1.7"/>
<line x1="2042.3" y1="616" x2="2042.3" y2="710" stroke="#a4a4ee" stroke-width="1.6"/><rect x="2037.9" y="640.8" width="8.8" height="58.4" rx="1.5" fill="#fff" stroke="#a6a6ee" stroke-width="1.7"/>
</g>
<rect x="926.0" y="656" width="8.8" height="34.5" fill="#d6d6d6" stroke="#8c8c8c" stroke-width="1.6"/>
<g fill="none" stroke-linecap="round"><path d="M1447 414.5 H1473 M1457.5 399 V425" stroke="#fff" stroke-width="3.6"/><path d="M1447 414.5 H1473 M1457.5 399 V425" stroke="#000" stroke-width="1.8"/><path d="M1445 414.5 l5 -4 v8 z M1475 414.5 l-5 -4 v8 z" fill="#000" stroke="#fff" stroke-width="0.8"/></g>
<path d="M1461 417 L1462 445 L1467 440 L1472 455 L1477 453 L1472 439 L1479 438 Z" fill="#fff" stroke="#111" stroke-width="1.6" stroke-linejoin="round"/>
<rect x="2070.6" y="213.7" width="79.8" height="24.6" fill="#484848"/>
<text x="2074.5" y="234.1" font-size="22.5" font-weight="bold" fill="#f2f2f2" textLength="73" lengthAdjust="spacingAndGlyphs">17.8285</text>
<rect x="2070.6" y="564.5" width="79.8" height="24.6" fill="#484848"/>
<text x="2074.5" y="584.9" font-size="22.5" font-weight="bold" fill="#f2f2f2" textLength="73" lengthAdjust="spacingAndGlyphs">64.2009</text>
<rect x="2070.6" y="626.9000000000001" width="79.8" height="24.6" fill="#484848"/>
<text x="2074.5" y="647.3000000000001" font-size="22.5" font-weight="bold" fill="#f2f2f2" textLength="73" lengthAdjust="spacingAndGlyphs">1499.15</text>
<line x1="2060" y1="226" x2="2067" y2="226" stroke="#888" stroke-width="1.5"/>
<line x1="2060" y1="640" x2="2067" y2="640" stroke="#aaa" stroke-width="1.5"/>
<rect x="2075" y="214.5" width="5.5" height="23" fill="#d8262c" opacity="0.9"/>
<text x="898.5" y="64.5" font-size="23.5" font-weight="bold" fill="#000" stroke="#000" stroke-width="0.3" textLength="149.5" lengthAdjust="spacingAndGlyphs">XAUXAG'Curncy</text>
<text x="1075.5" y="64.5" font-size="23.5" font-weight="bold" fill="#4e4ed8" stroke="#4e4ed8" stroke-width="0.3" textLength="108.5" lengthAdjust="spacingAndGlyphs">XAU'Curncy</text>
<text class="t" x="863" y="1098.7" textLength="990.5" lengthAdjust="spacingAndGlyphs">For the first time since August 2010 we have seen a bearish outside month on the</text>
<text class="tb" x="862" y="1149" textLength="209.0" lengthAdjust="spacingAndGlyphs">Gold/Silver ratio</text>
<text class="t" x="1082" y="1149" textLength="528.0" lengthAdjust="spacingAndGlyphs">suggesting that Silver can outperform here.</text>
<text class="t" x="1615.5" y="1149" textLength="375.5" lengthAdjust="spacingAndGlyphs">In 2010-2011 the ratio fell 55%</text>
<line x1="1615.5" y1="1156.2" x2="1991" y2="1156.2" stroke="#333" stroke-width="2.4"/>
<text class="t" x="862" y="1197.5" textLength="420.0" lengthAdjust="spacingAndGlyphs">even as Gold rallied a further 63%.</text>
<line x1="862" y1="1204.7" x2="1282" y2="1204.7" stroke="#333" stroke-width="2.4"/>
<text class="t" x="863" y="1247" textLength="1100.5" lengthAdjust="spacingAndGlyphs">If anything this reversal is even more impressive as it is coming at the absolute high of an 8</text>
<line x1="863" y1="1254.2" x2="1963.5" y2="1254.2" stroke="#333" stroke-width="2.4"/>
<text class="t" x="862" y="1297" textLength="610.5" lengthAdjust="spacingAndGlyphs">year+ uptrend that saw this ratio more than triple.</text>
<line x1="862" y1="1304.2" x2="1472.5" y2="1304.2" stroke="#333" stroke-width="2.4"/>
<text class="tb" x="862" y="1346" textLength="1111.5" lengthAdjust="spacingAndGlyphs">As in 2011 this does not suggest a large fall in Gold but rathert a huge &quot;catch up&quot;  in silver.</text>
</g>
<g fill="#000" filter="url(#bl)">
<rect x="9" y="7.5" width="5.8" height="1520"/>
<rect x="9" y="7.5" width="2162" height="6.7"/>
<rect x="2166.4" y="7.5" width="4.7" height="1520"/>
<rect x="9" y="1522" width="2162" height="5.6"/>
</g>
</svg></body></html>
